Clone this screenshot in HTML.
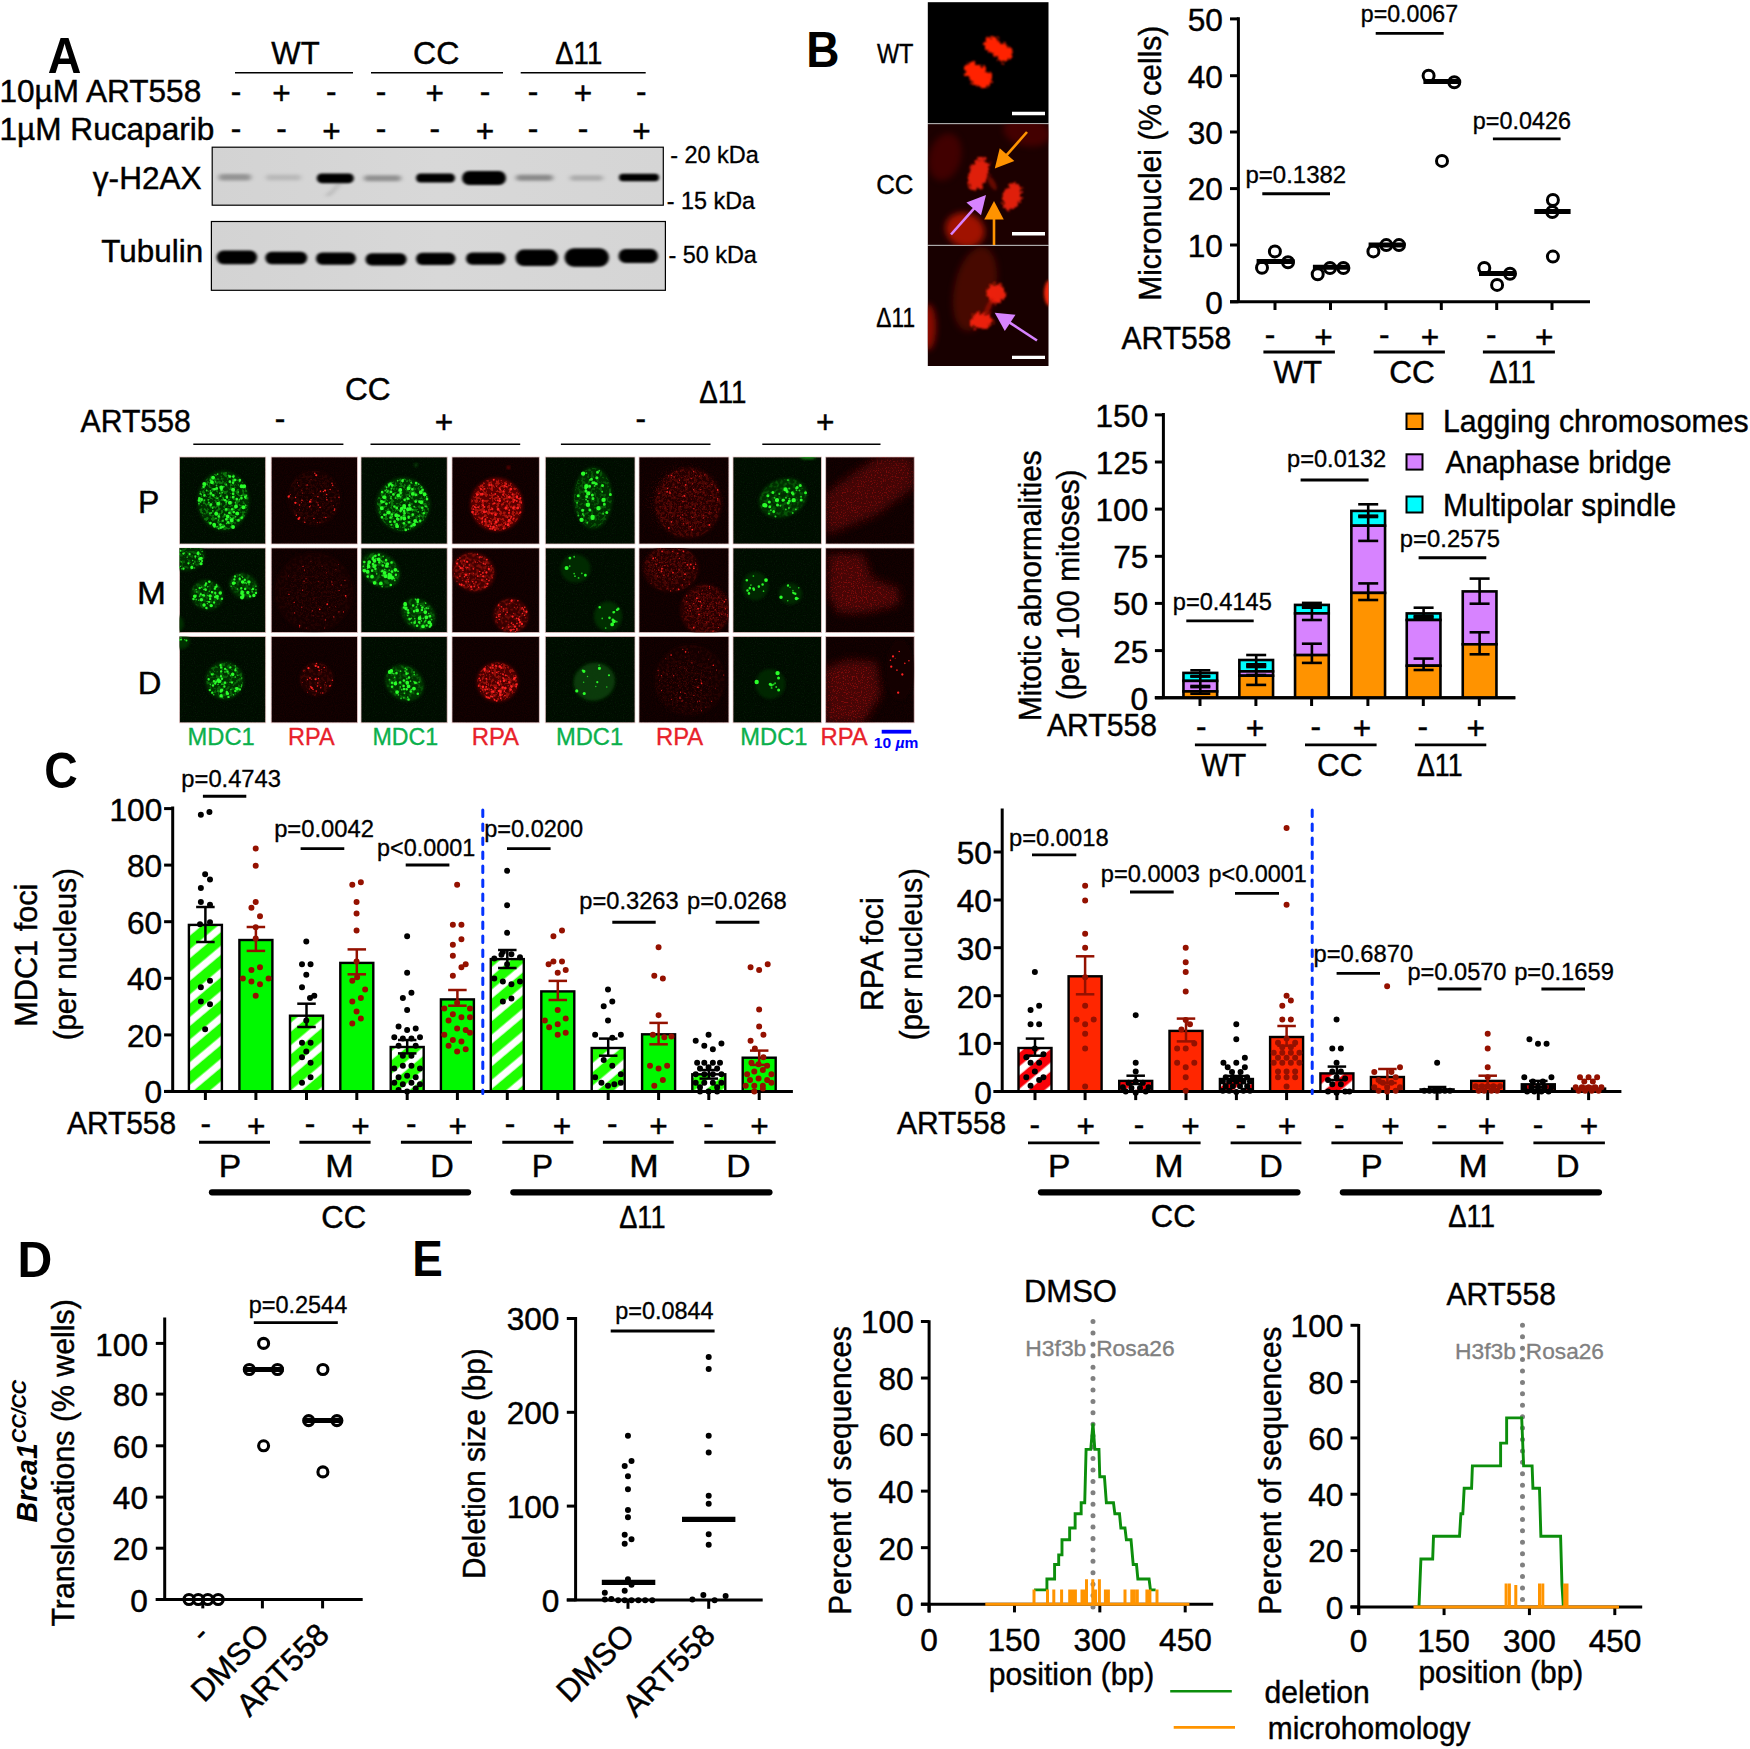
<!DOCTYPE html>
<html lang="en"><head><meta charset="utf-8"><title>Figure</title>
<style>
html,body{margin:0;padding:0;background:#fff;}
svg{display:block;}
text{font-family:"Liberation Sans",sans-serif;}
</style></head><body>
<svg width="1750" height="1749" viewBox="0 0 1750 1749">
<defs>
<linearGradient id="blotbg" x1="0" y1="0" x2="1" y2="0"><stop offset="0" stop-color="#d3d3d3"/><stop offset="0.5" stop-color="#d8d8d8"/><stop offset="1" stop-color="#d5d5d5"/></linearGradient>
<filter id="bblur" x="-5%" y="-50%" width="110%" height="200%"><feGaussianBlur stdDeviation="1.7 1.3"/></filter>
<filter id="bblur2" x="-10%" y="-100%" width="120%" height="300%"><feGaussianBlur stdDeviation="2.6 1.6"/></filter>
<filter id="rag" x="-40%" y="-40%" width="180%" height="180%"><feTurbulence type="fractalNoise" baseFrequency="0.3" numOctaves="2" seed="11" result="t"/><feDisplacementMap in="SourceGraphic" in2="t" scale="9" xChannelSelector="R" yChannelSelector="G" result="d"/><feGaussianBlur in="d" stdDeviation="1.0"/></filter>
<filter id="mblur" x="-40%" y="-40%" width="180%" height="180%"><feGaussianBlur stdDeviation="1.8"/></filter>
<filter id="mblur2" x="-40%" y="-40%" width="180%" height="180%"><feGaussianBlur stdDeviation="3"/></filter>
<filter id="nblur" x="-30%" y="-30%" width="160%" height="160%"><feGaussianBlur stdDeviation="1.6"/></filter>
<filter id="nblur2" x="-30%" y="-30%" width="160%" height="160%"><feGaussianBlur stdDeviation="5"/></filter>
<filter id="fblur" x="-10%" y="-10%" width="120%" height="120%"><feGaussianBlur stdDeviation="0.45"/></filter>
<filter id="mesh0" x="-5%" y="-5%" width="110%" height="110%"><feTurbulence type="fractalNoise" baseFrequency="0.33" numOctaves="2" seed="5" result="n"/><feColorMatrix in="n" type="matrix" values="0 0 0 0 0  0 0 0 0 0  0 0 0 0 0  0 8 0 0 -3.9" result="a"/><feComposite in="SourceGraphic" in2="a" operator="in" result="c"/><feGaussianBlur in="c" stdDeviation="0.45"/></filter>
<filter id="mesh1" x="-5%" y="-5%" width="110%" height="110%"><feTurbulence type="fractalNoise" baseFrequency="0.33" numOctaves="2" seed="17" result="n"/><feColorMatrix in="n" type="matrix" values="0 0 0 0 0  0 0 0 0 0  0 0 0 0 0  0 8 0 0 -3.9" result="a"/><feComposite in="SourceGraphic" in2="a" operator="in" result="c"/><feGaussianBlur in="c" stdDeviation="0.45"/></filter>
<filter id="mesh2" x="-5%" y="-5%" width="110%" height="110%"><feTurbulence type="fractalNoise" baseFrequency="0.33" numOctaves="2" seed="29" result="n"/><feColorMatrix in="n" type="matrix" values="0 0 0 0 0  0 0 0 0 0  0 0 0 0 0  0 8 0 0 -3.9" result="a"/><feComposite in="SourceGraphic" in2="a" operator="in" result="c"/><feGaussianBlur in="c" stdDeviation="0.45"/></filter>
<filter id="speck" x="-25%" y="-25%" width="150%" height="150%"><feGaussianBlur in="SourceGraphic" stdDeviation="6" result="b"/><feTurbulence type="fractalNoise" baseFrequency="0.8" numOctaves="2" seed="9" result="n"/><feColorMatrix in="n" type="matrix" values="0 0 0 0 0  0 0 0 0 0  0 0 0 0 0  0 7 0 0 -3.85" result="a"/><feComposite in="b" in2="a" operator="in"/></filter>
<filter id="grain" x="0" y="0" width="100%" height="100%"><feTurbulence type="fractalNoise" baseFrequency="0.9" numOctaves="2" seed="3" result="n"/><feColorMatrix in="n" type="matrix" values="0 0 0 0 0  0 0 0 0 0  0 0 0 0 0  1.6 0 0 0 -0.55" result="a"/><feComposite in="SourceGraphic" in2="a" operator="in"/></filter>
<pattern id="hg" width="17.3" height="10" patternUnits="userSpaceOnUse" patternTransform="rotate(50)"><rect width="17.3" height="10" fill="#1eff00"/><rect x="1.5" width="6.9" height="10" fill="#fff"/></pattern>
<pattern id="hr" width="17.3" height="10" patternUnits="userSpaceOnUse" patternTransform="rotate(50)"><rect width="17.3" height="10" fill="#f80008"/><rect x="1.5" width="6.9" height="10" fill="#fff"/></pattern>
</defs>
<rect width="1750" height="1749" fill="#fff"/>
<g id="pA">
<text x="47.64" y="72.7" textLength="33.63" lengthAdjust="spacingAndGlyphs" font-size="49.5" font-weight="bold">A</text>
<text x="271.34" y="64.2" textLength="48.27" lengthAdjust="spacingAndGlyphs" font-size="31.6" stroke="#000" stroke-width="0.44">WT</text>
<text x="413" y="64.2" textLength="46.26" lengthAdjust="spacingAndGlyphs" font-size="31.6" stroke="#000" stroke-width="0.44">CC</text>
<text x="555.17" y="64.2" textLength="47.1" lengthAdjust="spacingAndGlyphs" font-size="31.6" stroke="#000" stroke-width="0.44">Δ11</text>
<line x1="235" y1="72.7" x2="353" y2="72.7" stroke="#000" stroke-width="1.6" />
<line x1="371" y1="72.7" x2="503" y2="72.7" stroke="#000" stroke-width="1.6" />
<line x1="520.7" y1="72.7" x2="645.7" y2="72.7" stroke="#000" stroke-width="1.6" />
<text x="-0.46" y="102.3" textLength="201.62" lengthAdjust="spacingAndGlyphs" font-size="31.6" stroke="#000" stroke-width="0.44">10µM ART558</text>
<text x="-0.47" y="139.6" textLength="214.78" lengthAdjust="spacingAndGlyphs" font-size="31.6" stroke="#000" stroke-width="0.44">1µM Rucaparib</text>
<text x="230.71" y="101.77" font-size="31.6" stroke="#000" stroke-width="0.44">-</text>
<text x="230.71" y="138.87" font-size="31.6" stroke="#000" stroke-width="0.44">-</text>
<text x="272.36" y="104.19" font-size="31.6" stroke="#000" stroke-width="0.44">+</text>
<text x="276.31" y="138.87" font-size="31.6" stroke="#000" stroke-width="0.44">-</text>
<text x="326.11" y="101.77" font-size="31.6" stroke="#000" stroke-width="0.44">-</text>
<text x="322.16" y="141.99" font-size="31.6" stroke="#000" stroke-width="0.44">+</text>
<text x="375.71" y="101.77" font-size="31.6" stroke="#000" stroke-width="0.44">-</text>
<text x="375.71" y="138.87" font-size="31.6" stroke="#000" stroke-width="0.44">-</text>
<text x="425.46" y="104.19" font-size="31.6" stroke="#000" stroke-width="0.44">+</text>
<text x="429.41" y="138.87" font-size="31.6" stroke="#000" stroke-width="0.44">-</text>
<text x="479.71" y="101.77" font-size="31.6" stroke="#000" stroke-width="0.44">-</text>
<text x="475.76" y="141.99" font-size="31.6" stroke="#000" stroke-width="0.44">+</text>
<text x="527.71" y="101.77" font-size="31.6" stroke="#000" stroke-width="0.44">-</text>
<text x="527.71" y="138.87" font-size="31.6" stroke="#000" stroke-width="0.44">-</text>
<text x="573.76" y="104.19" font-size="31.6" stroke="#000" stroke-width="0.44">+</text>
<text x="577.71" y="138.87" font-size="31.6" stroke="#000" stroke-width="0.44">-</text>
<text x="636.11" y="101.77" font-size="31.6" stroke="#000" stroke-width="0.44">-</text>
<text x="632.16" y="141.99" font-size="31.6" stroke="#000" stroke-width="0.44">+</text>
<rect x="212.2" y="147.2" width="451.1" height="58" fill="url(#blotbg)" stroke="#000" stroke-width="1.2"/>
<rect x="211.4" y="221.5" width="454" height="68.8" fill="url(#blotbg)" stroke="#000" stroke-width="1.2"/>
<g filter="url(#bblur2)">
<rect x="218.7" y="173.95" width="32.3" height="6.5" rx="3.25" fill="#000" opacity="0.3"/>
<rect x="266" y="174.5" width="35" height="6" rx="3" fill="#000" opacity="0.13"/>
<rect x="364" y="175.2" width="37" height="6" rx="3" fill="#000" opacity="0.33"/>
<rect x="516" y="174.8" width="37" height="6" rx="3" fill="#000" opacity="0.36"/>
<rect x="570" y="175.25" width="33" height="5.5" rx="2.75" fill="#000" opacity="0.2"/>
<path d="M340 183 L332 192 L327 196" stroke="#000" stroke-width="2.5" fill="none" opacity="0.18"/>
</g>
<g filter="url(#bblur)">
<rect x="316.8" y="173.4" width="37" height="9.8" rx="4.9" fill="#000"/>
<rect x="416" y="173.5" width="39" height="9" rx="4.5" fill="#000"/>
<rect x="462" y="171" width="44" height="14" rx="7" fill="#000"/>
<rect x="619" y="173.85" width="40" height="7.5" rx="3.75" fill="#000"/>
<rect x="216.7" y="250.45" width="40.4" height="13.7" rx="6.85" fill="#000"/>
<rect x="265.3" y="251.75" width="41.9" height="12.5" rx="6.25" fill="#000"/>
<rect x="316" y="252.45" width="39.9" height="12.3" rx="6.15" fill="#000"/>
<rect x="365.5" y="253.15" width="41.1" height="12.3" rx="6.15" fill="#000"/>
<rect x="416" y="252.65" width="39.5" height="12.3" rx="6.15" fill="#000"/>
<rect x="466" y="252.45" width="39.6" height="12.3" rx="6.15" fill="#000"/>
<rect x="515.5" y="249.55" width="42.5" height="16.5" rx="8.25" fill="#000"/>
<rect x="564.5" y="248.25" width="44.5" height="18.5" rx="9.25" fill="#000"/>
<rect x="618.5" y="248.9" width="39.5" height="14.2" rx="7.1" fill="#000"/>
</g>
<text x="92.84" y="188.8" textLength="108.8" lengthAdjust="spacingAndGlyphs" font-size="31.6" stroke="#000" stroke-width="0.44">γ-H2AX</text>
<text x="101.37" y="262.3" textLength="101.76" lengthAdjust="spacingAndGlyphs" font-size="31.6" stroke="#000" stroke-width="0.44">Tubulin</text>
<text x="670.14" y="163" textLength="88.64" lengthAdjust="spacingAndGlyphs" font-size="23.7" stroke="#000" stroke-width="0.33">- 20 kDa</text>
<text x="666.85" y="208.6" textLength="88.13" lengthAdjust="spacingAndGlyphs" font-size="23.7" stroke="#000" stroke-width="0.33">- 15 kDa</text>
<text x="668.45" y="262.6" textLength="88.44" lengthAdjust="spacingAndGlyphs" font-size="23.7" stroke="#000" stroke-width="0.33">- 50 kDa</text>
</g>
<g id="pBimg">
<text x="806.21" y="67.3" textLength="33.23" lengthAdjust="spacingAndGlyphs" font-size="49.3" font-weight="bold">B</text>
<text x="876.88" y="63" textLength="36.58" lengthAdjust="spacingAndGlyphs" font-size="27.5" stroke="#000" stroke-width="0.39">WT</text>
<text x="876.21" y="194.4" textLength="37.31" lengthAdjust="spacingAndGlyphs" font-size="27.5" stroke="#000" stroke-width="0.39">CC</text>
<text x="876.32" y="327" textLength="38.73" lengthAdjust="spacingAndGlyphs" font-size="27.5" stroke="#000" stroke-width="0.39">Δ11</text>
<clipPath id="cb1"><rect x="927.8" y="2.2" width="120.70000000000005" height="121.2"/></clipPath>
<clipPath id="cb2"><rect x="927.8" y="124" width="120.70000000000005" height="121"/></clipPath>
<clipPath id="cb3"><rect x="927.8" y="245.6" width="120.70000000000005" height="120.4"/></clipPath>
<rect x="927.8" y="2.2" width="120.7" height="121.2" fill="#000"/>
<rect x="927.8" y="124" width="120.7" height="121" fill="#1c0000"/>
<rect x="927.8" y="245.6" width="120.7" height="120.4" fill="#180000"/>
<line x1="927.8" y1="123.7" x2="1048.5" y2="123.7" stroke="#b0b0b0" stroke-width="0.9" />
<line x1="927.8" y1="245.3" x2="1048.5" y2="245.3" stroke="#b0b0b0" stroke-width="0.9" />
<g clip-path="url(#cb1)">
<g filter="url(#rag)">
<ellipse cx="992" cy="44.5" rx="8.5" ry="8" transform="rotate(0 992 44.5)" fill="#ff2300" opacity="1"/>
<ellipse cx="1004" cy="53" rx="8.5" ry="9" transform="rotate(0 1004 53)" fill="#ff2300" opacity="1"/>
<ellipse cx="998" cy="49" rx="12" ry="7" transform="rotate(35 998 49)" fill="#ff2300" opacity="1"/>
<ellipse cx="978" cy="75" rx="16" ry="9.5" transform="rotate(38 978 75)" fill="#ff2300" opacity="1"/>
<ellipse cx="971" cy="68" rx="6" ry="5" transform="rotate(0 971 68)" fill="#ff2300" opacity="1"/>
</g>
</g>
<g clip-path="url(#cb2)">
<ellipse cx="945" cy="157" rx="16" ry="24" transform="rotate(15 945 157)" fill="#5a0500" opacity="0.6" filter="url(#mblur2)"/>
<ellipse cx="1027" cy="132" rx="24" ry="14" transform="rotate(10 1027 132)" fill="#5a0500" opacity="0.65" filter="url(#mblur2)"/>
<ellipse cx="965" cy="230" rx="20" ry="17" transform="rotate(20 965 230)" fill="#b81205" opacity="0.85" filter="url(#mblur2)"/>
<g filter="url(#rag)" opacity="0.92">
<ellipse cx="978.5" cy="174" rx="9.5" ry="17" transform="rotate(20 978.5 174)" fill="#f02408" opacity="1"/>
<ellipse cx="1012" cy="196.5" rx="9.5" ry="13.5" transform="rotate(20 1012 196.5)" fill="#f02408" opacity="1"/>
</g>
<ellipse cx="992" cy="183" rx="3" ry="8" transform="rotate(-30 992 183)" fill="#8a0c00" opacity="0.7" filter="url(#mblur)"/>
</g>
<line x1="1027" y1="132" x2="1006.38" y2="155.38" stroke="#ff9300" stroke-width="2.6" />
<polygon points="994.8,168.5 999.73,148.18 1014.35,161.08" fill="#ff9300"/>
<line x1="994" y1="245" x2="994" y2="218.5" stroke="#ff9300" stroke-width="2.6" />
<polygon points="994,201 1003.75,219.5 984.25,219.5" fill="#ff9300"/>
<line x1="951" y1="234.5" x2="974.39" y2="208.1" stroke="#d783ff" stroke-width="2.6" />
<polygon points="986,195 981.03,215.31 966.43,202.38" fill="#d783ff"/>
<g clip-path="url(#cb3)">
<ellipse cx="975" cy="289" rx="21" ry="43" transform="rotate(12 975 289)" fill="#5c0700" opacity="0.7" filter="url(#mblur2)"/>
<ellipse cx="928" cy="327" rx="8" ry="23" transform="rotate(0 928 327)" fill="#a81005" opacity="0.8" filter="url(#mblur2)"/>
<ellipse cx="1050" cy="293" rx="6" ry="13" transform="rotate(0 1050 293)" fill="#ff2a0a" opacity="0.95" filter="url(#mblur)"/>
<g filter="url(#rag)" opacity="0.95">
<ellipse cx="996" cy="293.5" rx="9.5" ry="10" transform="rotate(0 996 293.5)" fill="#f52408" opacity="1"/>
<ellipse cx="981.5" cy="320.5" rx="11.5" ry="8" transform="rotate(-10 981.5 320.5)" fill="#f52408" opacity="1"/>
</g>
<ellipse cx="988.5" cy="307" rx="2.5" ry="9" transform="rotate(25 988.5 307)" fill="#a01000" opacity="0.8" filter="url(#mblur)"/>
</g>
<line x1="1037" y1="340.5" x2="1009.32" y2="322.31" stroke="#d783ff" stroke-width="2.6" />
<polygon points="994.7,312.7 1015.51,314.71 1004.81,331.01" fill="#d783ff"/>
<line x1="1012" y1="113.5" x2="1045" y2="113.5" stroke="#fff" stroke-width="3.4" />
<line x1="1012" y1="233.7" x2="1045" y2="233.7" stroke="#fff" stroke-width="3.4" />
<line x1="1012" y1="357.4" x2="1045" y2="357.4" stroke="#fff" stroke-width="3.4" />
</g>
<g id="pBmic">
<line x1="1238.4" y1="17.3" x2="1238.4" y2="303.1" stroke="#000" stroke-width="3" />
<line x1="1230" y1="301.8" x2="1590" y2="301.8" stroke="#000" stroke-width="3" />
<line x1="1230" y1="18.9" x2="1238.4" y2="18.9" stroke="#000" stroke-width="3" />
<text x="1187.63" y="30.7" font-size="31.6" stroke="#000" stroke-width="0.44">50</text>
<line x1="1230" y1="75.7" x2="1238.4" y2="75.7" stroke="#000" stroke-width="3" />
<text x="1187.63" y="87.5" font-size="31.6" stroke="#000" stroke-width="0.44">40</text>
<line x1="1230" y1="132" x2="1238.4" y2="132" stroke="#000" stroke-width="3" />
<text x="1187.63" y="143.8" font-size="31.6" stroke="#000" stroke-width="0.44">30</text>
<line x1="1230" y1="188.6" x2="1238.4" y2="188.6" stroke="#000" stroke-width="3" />
<text x="1187.63" y="200.4" font-size="31.6" stroke="#000" stroke-width="0.44">20</text>
<line x1="1230" y1="245" x2="1238.4" y2="245" stroke="#000" stroke-width="3" />
<text x="1187.63" y="256.8" font-size="31.6" stroke="#000" stroke-width="0.44">10</text>
<line x1="1230" y1="301.8" x2="1238.4" y2="301.8" stroke="#000" stroke-width="3" />
<text x="1205.17" y="313.6" font-size="31.6" stroke="#000" stroke-width="0.44">0</text>
<line x1="1275" y1="301.8" x2="1275" y2="310" stroke="#000" stroke-width="3" />
<line x1="1330.5" y1="301.8" x2="1330.5" y2="310" stroke="#000" stroke-width="3" />
<line x1="1386" y1="301.8" x2="1386" y2="310" stroke="#000" stroke-width="3" />
<line x1="1441.3" y1="301.8" x2="1441.3" y2="310" stroke="#000" stroke-width="3" />
<line x1="1496.7" y1="301.8" x2="1496.7" y2="310" stroke="#000" stroke-width="3" />
<line x1="1552" y1="301.8" x2="1552" y2="310" stroke="#000" stroke-width="3" />
<text transform="translate(1160.8,298.4) rotate(-90)" x="-2.4" y="0" textLength="275.11" lengthAdjust="spacingAndGlyphs" font-size="31.6" stroke="#000" stroke-width="0.44">Micronuclei (% cells)</text>
<text x="1245.44" y="182.9" textLength="100.73" lengthAdjust="spacingAndGlyphs" font-size="23.7" stroke="#000" stroke-width="0.33">p=0.1382</text>
<line x1="1262.3" y1="193.7" x2="1330" y2="193.7" stroke="#000" stroke-width="2.9" />
<text x="1360.79" y="22.3" textLength="97.34" lengthAdjust="spacingAndGlyphs" font-size="23.7" stroke="#000" stroke-width="0.33">p=0.0067</text>
<line x1="1375.7" y1="33.4" x2="1443.7" y2="33.4" stroke="#000" stroke-width="2.9" />
<text x="1472.78" y="128.6" textLength="98.13" lengthAdjust="spacingAndGlyphs" font-size="23.7" stroke="#000" stroke-width="0.33">p=0.0426</text>
<line x1="1492.9" y1="138.9" x2="1560.6" y2="138.9" stroke="#000" stroke-width="2.9" />
<circle cx="1262" cy="267.7" r="5.5" fill="none" stroke="#000" stroke-width="3"/>
<circle cx="1274.9" cy="251.4" r="5.5" fill="none" stroke="#000" stroke-width="3"/>
<circle cx="1288" cy="262.3" r="5.5" fill="none" stroke="#000" stroke-width="3"/>
<circle cx="1317.7" cy="274.3" r="5.5" fill="none" stroke="#000" stroke-width="3"/>
<circle cx="1330" cy="268" r="5.5" fill="none" stroke="#000" stroke-width="3"/>
<circle cx="1343.4" cy="268" r="5.5" fill="none" stroke="#000" stroke-width="3"/>
<circle cx="1373.4" cy="251.4" r="5.5" fill="none" stroke="#000" stroke-width="3"/>
<circle cx="1386.3" cy="245.1" r="5.5" fill="none" stroke="#000" stroke-width="3"/>
<circle cx="1399" cy="245.1" r="5.5" fill="none" stroke="#000" stroke-width="3"/>
<circle cx="1428.6" cy="75.7" r="5.5" fill="none" stroke="#000" stroke-width="3"/>
<circle cx="1454.3" cy="82.3" r="5.5" fill="none" stroke="#000" stroke-width="3"/>
<circle cx="1442" cy="160.9" r="5.5" fill="none" stroke="#000" stroke-width="3"/>
<circle cx="1484.3" cy="268" r="5.5" fill="none" stroke="#000" stroke-width="3"/>
<circle cx="1497.1" cy="284.9" r="5.5" fill="none" stroke="#000" stroke-width="3"/>
<circle cx="1510" cy="273.7" r="5.5" fill="none" stroke="#000" stroke-width="3"/>
<circle cx="1552.9" cy="200" r="5.5" fill="none" stroke="#000" stroke-width="3"/>
<circle cx="1552.3" cy="212" r="5.5" fill="none" stroke="#000" stroke-width="3"/>
<circle cx="1552.9" cy="256.6" r="5.5" fill="none" stroke="#000" stroke-width="3"/>
<line x1="1256.6" y1="261.6" x2="1294.3" y2="261.6" stroke="#000" stroke-width="5" />
<line x1="1312.9" y1="267.2" x2="1348.6" y2="267.2" stroke="#000" stroke-width="5" />
<line x1="1368.6" y1="244.9" x2="1405" y2="244.9" stroke="#000" stroke-width="5" />
<line x1="1423.4" y1="81.6" x2="1460" y2="81.6" stroke="#000" stroke-width="5" />
<line x1="1479" y1="273.4" x2="1515.7" y2="273.4" stroke="#000" stroke-width="5" />
<line x1="1534.3" y1="211.6" x2="1570.6" y2="211.6" stroke="#000" stroke-width="5" />
<text x="1121.4" y="348.6" textLength="109.82" lengthAdjust="spacingAndGlyphs" font-size="31.6" stroke="#000" stroke-width="0.44">ART558</text>
<text x="1264.71" y="345.37" font-size="31.6" stroke="#000" stroke-width="0.44">-</text>
<text x="1314.16" y="347.79" font-size="31.6" stroke="#000" stroke-width="0.44">+</text>
<text x="1379.01" y="345.37" font-size="31.6" stroke="#000" stroke-width="0.44">-</text>
<text x="1420.76" y="347.79" font-size="31.6" stroke="#000" stroke-width="0.44">+</text>
<text x="1486.11" y="345.37" font-size="31.6" stroke="#000" stroke-width="0.44">-</text>
<text x="1535.06" y="347.79" font-size="31.6" stroke="#000" stroke-width="0.44">+</text>
<line x1="1263.4" y1="352" x2="1334.9" y2="352" stroke="#000" stroke-width="2.9" />
<line x1="1373.7" y1="352" x2="1444.9" y2="352" stroke="#000" stroke-width="2.9" />
<line x1="1482.9" y1="352" x2="1554.9" y2="352" stroke="#000" stroke-width="2.9" />
<text x="1273.54" y="382.9" textLength="48.47" lengthAdjust="spacingAndGlyphs" font-size="31.6" stroke="#000" stroke-width="0.44">WT</text>
<text x="1389.32" y="382.9" textLength="45.62" lengthAdjust="spacingAndGlyphs" font-size="31.6" stroke="#000" stroke-width="0.44">CC</text>
<text x="1489.18" y="382.9" textLength="46.37" lengthAdjust="spacingAndGlyphs" font-size="31.6" stroke="#000" stroke-width="0.44">Δ11</text>
</g>
<g id="pGrid">
<text x="345.02" y="399.7" textLength="45.62" lengthAdjust="spacingAndGlyphs" font-size="31.6" stroke="#000" stroke-width="0.44">CC</text>
<text x="699.17" y="403.2" textLength="47.31" lengthAdjust="spacingAndGlyphs" font-size="31.6" stroke="#000" stroke-width="0.44">Δ11</text>
<text x="80.6" y="431.6" textLength="110.12" lengthAdjust="spacingAndGlyphs" font-size="31.6" stroke="#000" stroke-width="0.44">ART558</text>
<text x="274.71" y="428.57" font-size="31.6" stroke="#000" stroke-width="0.44">-</text>
<text x="434.76" y="432.59" font-size="31.6" stroke="#000" stroke-width="0.44">+</text>
<text x="635.61" y="428.57" font-size="31.6" stroke="#000" stroke-width="0.44">-</text>
<text x="815.96" y="432.59" font-size="31.6" stroke="#000" stroke-width="0.44">+</text>
<line x1="193.3" y1="444.2" x2="343.4" y2="444.2" stroke="#000" stroke-width="1.6" />
<line x1="370.5" y1="444.2" x2="520.2" y2="444.2" stroke="#000" stroke-width="1.6" />
<line x1="560.9" y1="444.2" x2="710.5" y2="444.2" stroke="#000" stroke-width="1.6" />
<line x1="762.3" y1="444.2" x2="880.5" y2="444.2" stroke="#000" stroke-width="1.6" />
<text x="137.94" y="512.8" textLength="21.32" lengthAdjust="spacingAndGlyphs" font-size="31.6" stroke="#000" stroke-width="0.44">P</text>
<text x="136.92" y="603.8" textLength="28.97" lengthAdjust="spacingAndGlyphs" font-size="31.6" stroke="#000" stroke-width="0.44">M</text>
<text x="137.88" y="694.4" textLength="23.67" lengthAdjust="spacingAndGlyphs" font-size="31.6" stroke="#000" stroke-width="0.44">D</text>
<clipPath id="k00"><rect x="179.4" y="457" width="86.3" height="87"/></clipPath>
<rect x="179.4" y="457" width="86.3" height="87" fill="#010a01" stroke="#e9c9c9" stroke-width="0.8"/>
<rect x="179.9" y="457.5" width="85.3" height="86" fill="#0c330c" opacity="0.38" filter="url(#grain)"/>
<clipPath id="k01"><rect x="271.2" y="457" width="86.3" height="87"/></clipPath>
<rect x="271.2" y="457" width="86.3" height="87" fill="#0c0000" stroke="#e9c9c9" stroke-width="0.8"/>
<rect x="271.7" y="457.5" width="85.3" height="86" fill="#3c0606" opacity="0.38" filter="url(#grain)"/>
<clipPath id="k02"><rect x="361" y="457" width="86.2" height="87"/></clipPath>
<rect x="361" y="457" width="86.2" height="87" fill="#010a01" stroke="#e9c9c9" stroke-width="0.8"/>
<rect x="361.5" y="457.5" width="85.2" height="86" fill="#0c330c" opacity="0.38" filter="url(#grain)"/>
<clipPath id="k03"><rect x="452" y="457" width="87.3" height="87"/></clipPath>
<rect x="452" y="457" width="87.3" height="87" fill="#0c0000" stroke="#e9c9c9" stroke-width="0.8"/>
<rect x="452.5" y="457.5" width="86.3" height="86" fill="#3c0606" opacity="0.38" filter="url(#grain)"/>
<clipPath id="k04"><rect x="545.3" y="457" width="89.7" height="87"/></clipPath>
<rect x="545.3" y="457" width="89.7" height="87" fill="#010a01" stroke="#e9c9c9" stroke-width="0.8"/>
<rect x="545.8" y="457.5" width="88.7" height="86" fill="#0c330c" opacity="0.38" filter="url(#grain)"/>
<clipPath id="k05"><rect x="639" y="457" width="89.9" height="87"/></clipPath>
<rect x="639" y="457" width="89.9" height="87" fill="#0c0000" stroke="#e9c9c9" stroke-width="0.8"/>
<rect x="639.5" y="457.5" width="88.9" height="86" fill="#3c0606" opacity="0.38" filter="url(#grain)"/>
<clipPath id="k06"><rect x="733" y="457" width="88.4" height="87"/></clipPath>
<rect x="733" y="457" width="88.4" height="87" fill="#010a01" stroke="#e9c9c9" stroke-width="0.8"/>
<rect x="733.5" y="457.5" width="87.4" height="86" fill="#0c330c" opacity="0.38" filter="url(#grain)"/>
<clipPath id="k07"><rect x="825.7" y="457" width="88.5" height="87"/></clipPath>
<rect x="825.7" y="457" width="88.5" height="87" fill="#0c0000" stroke="#e9c9c9" stroke-width="0.8"/>
<rect x="826.2" y="457.5" width="87.5" height="86" fill="#3c0606" opacity="0.38" filter="url(#grain)"/>
<clipPath id="k10"><rect x="179.4" y="548" width="86.3" height="84.6"/></clipPath>
<rect x="179.4" y="548" width="86.3" height="84.6" fill="#010a01" stroke="#e9c9c9" stroke-width="0.8"/>
<rect x="179.9" y="548.5" width="85.3" height="83.6" fill="#0c330c" opacity="0.38" filter="url(#grain)"/>
<clipPath id="k11"><rect x="271.2" y="548" width="86.3" height="84.6"/></clipPath>
<rect x="271.2" y="548" width="86.3" height="84.6" fill="#0c0000" stroke="#e9c9c9" stroke-width="0.8"/>
<rect x="271.7" y="548.5" width="85.3" height="83.6" fill="#3c0606" opacity="0.38" filter="url(#grain)"/>
<clipPath id="k12"><rect x="361" y="548" width="86.2" height="84.6"/></clipPath>
<rect x="361" y="548" width="86.2" height="84.6" fill="#010a01" stroke="#e9c9c9" stroke-width="0.8"/>
<rect x="361.5" y="548.5" width="85.2" height="83.6" fill="#0c330c" opacity="0.38" filter="url(#grain)"/>
<clipPath id="k13"><rect x="452" y="548" width="87.3" height="84.6"/></clipPath>
<rect x="452" y="548" width="87.3" height="84.6" fill="#0c0000" stroke="#e9c9c9" stroke-width="0.8"/>
<rect x="452.5" y="548.5" width="86.3" height="83.6" fill="#3c0606" opacity="0.38" filter="url(#grain)"/>
<clipPath id="k14"><rect x="545.3" y="548" width="89.7" height="84.6"/></clipPath>
<rect x="545.3" y="548" width="89.7" height="84.6" fill="#010a01" stroke="#e9c9c9" stroke-width="0.8"/>
<rect x="545.8" y="548.5" width="88.7" height="83.6" fill="#0c330c" opacity="0.38" filter="url(#grain)"/>
<clipPath id="k15"><rect x="639" y="548" width="89.9" height="84.6"/></clipPath>
<rect x="639" y="548" width="89.9" height="84.6" fill="#0c0000" stroke="#e9c9c9" stroke-width="0.8"/>
<rect x="639.5" y="548.5" width="88.9" height="83.6" fill="#3c0606" opacity="0.38" filter="url(#grain)"/>
<clipPath id="k16"><rect x="733" y="548" width="88.4" height="84.6"/></clipPath>
<rect x="733" y="548" width="88.4" height="84.6" fill="#010a01" stroke="#e9c9c9" stroke-width="0.8"/>
<rect x="733.5" y="548.5" width="87.4" height="83.6" fill="#0c330c" opacity="0.38" filter="url(#grain)"/>
<clipPath id="k17"><rect x="825.7" y="548" width="88.5" height="84.6"/></clipPath>
<rect x="825.7" y="548" width="88.5" height="84.6" fill="#0c0000" stroke="#e9c9c9" stroke-width="0.8"/>
<rect x="826.2" y="548.5" width="87.5" height="83.6" fill="#3c0606" opacity="0.38" filter="url(#grain)"/>
<clipPath id="k20"><rect x="179.4" y="636.5" width="86.3" height="86.3"/></clipPath>
<rect x="179.4" y="636.5" width="86.3" height="86.3" fill="#010a01" stroke="#e9c9c9" stroke-width="0.8"/>
<rect x="179.9" y="637" width="85.3" height="85.3" fill="#0c330c" opacity="0.38" filter="url(#grain)"/>
<clipPath id="k21"><rect x="271.2" y="636.5" width="86.3" height="86.3"/></clipPath>
<rect x="271.2" y="636.5" width="86.3" height="86.3" fill="#0c0000" stroke="#e9c9c9" stroke-width="0.8"/>
<rect x="271.7" y="637" width="85.3" height="85.3" fill="#3c0606" opacity="0.38" filter="url(#grain)"/>
<clipPath id="k22"><rect x="361" y="636.5" width="86.2" height="86.3"/></clipPath>
<rect x="361" y="636.5" width="86.2" height="86.3" fill="#010a01" stroke="#e9c9c9" stroke-width="0.8"/>
<rect x="361.5" y="637" width="85.2" height="85.3" fill="#0c330c" opacity="0.38" filter="url(#grain)"/>
<clipPath id="k23"><rect x="452" y="636.5" width="87.3" height="86.3"/></clipPath>
<rect x="452" y="636.5" width="87.3" height="86.3" fill="#0c0000" stroke="#e9c9c9" stroke-width="0.8"/>
<rect x="452.5" y="637" width="86.3" height="85.3" fill="#3c0606" opacity="0.38" filter="url(#grain)"/>
<clipPath id="k24"><rect x="545.3" y="636.5" width="89.7" height="86.3"/></clipPath>
<rect x="545.3" y="636.5" width="89.7" height="86.3" fill="#010a01" stroke="#e9c9c9" stroke-width="0.8"/>
<rect x="545.8" y="637" width="88.7" height="85.3" fill="#0c330c" opacity="0.38" filter="url(#grain)"/>
<clipPath id="k25"><rect x="639" y="636.5" width="89.9" height="86.3"/></clipPath>
<rect x="639" y="636.5" width="89.9" height="86.3" fill="#0c0000" stroke="#e9c9c9" stroke-width="0.8"/>
<rect x="639.5" y="637" width="88.9" height="85.3" fill="#3c0606" opacity="0.38" filter="url(#grain)"/>
<clipPath id="k26"><rect x="733" y="636.5" width="88.4" height="86.3"/></clipPath>
<rect x="733" y="636.5" width="88.4" height="86.3" fill="#010a01" stroke="#e9c9c9" stroke-width="0.8"/>
<rect x="733.5" y="637" width="87.4" height="85.3" fill="#0c330c" opacity="0.38" filter="url(#grain)"/>
<clipPath id="k27"><rect x="825.7" y="636.5" width="88.5" height="86.3"/></clipPath>
<rect x="825.7" y="636.5" width="88.5" height="86.3" fill="#0c0000" stroke="#e9c9c9" stroke-width="0.8"/>
<rect x="826.2" y="637" width="87.5" height="85.3" fill="#3c0606" opacity="0.38" filter="url(#grain)"/>
<g clip-path="url(#k00)">
<ellipse cx="223.4" cy="500.8" rx="26" ry="30" transform="rotate(0 223.4 500.8)" fill="#063506" opacity="0.9" filter="url(#nblur)"/>
<ellipse cx="223.4" cy="500.8" rx="25.22" ry="29.1" transform="rotate(0 223.4 500.8)" fill="#1fe01f" opacity="0.39" filter="url(#mesh1)"/>
<g filter="url(#fblur)" stroke="#2bff2b" stroke-linecap="round" fill="none">
<path d="M222.85 520.85h0M210.68 480.18h0M245.62 505.42h0M223.49 499.5h0M226.92 497.91h0M200.27 493.69h0M226.74 518.91h0M224.66 514.42h0M210.53 504.65h0M217.63 474.04h0M233.15 480.36h0M204.45 500.07h0M224.41 526.22h0M216.49 485.28h0M209.86 513.2h0M210.48 490.92h0M201.2 494.29h0M208.71 502.41h0M219.41 502.04h0M226.16 502.64h0M223.83 486.57h0M213.14 488.99h0M233.05 518.25h0M215.97 518.44h0M211.28 512.89h0M226.67 501.3h0M215.45 481.87h0M226.73 523.43h0M212.67 508h0M241.53 495.74h0M208.24 499.82h0M228.96 523.3h0M218.42 520.11h0M239.61 481.28h0M226.33 484.55h0M199 503.55h0M222.3 492.6h0M205.09 485.41h0M235.5 516.7h0M228.73 475.6h0M207.03 484.11h0M212.85 495h0M238.29 492.05h0M228.58 475.57h0M219.81 493.23h0M227.11 497.03h0M239.38 499.43h0M242.22 517.18h0M246.54 495.75h0M223.03 520.48h0M220.56 496.17h0M210.26 505.74h0M219.08 514.04h0M218.69 528.54h0M212.83 510.83h0M206.63 490.32h0M235.5 502.6h0M217.16 498.4h0M200.48 501.92h0M201.38 500.57h0M245.69 498.35h0M217.1 526.74h0M227.12 498.09h0M230.49 517.67h0" stroke-width="1.76" opacity="0.75"/>
<path d="M238.5 520.41h0M226.29 519.36h0M233.03 482.68h0M233.73 512.12h0M203.62 486.8h0M231.91 519.49h0M201.64 499.47h0M198.92 500.4h0M199.38 498.4h0M211 504.56h0M225.2 500.23h0M233.36 476.56h0M229.86 481.68h0M213.41 495.38h0M204.46 495.41h0M230.01 476.52h0M222.65 526.93h0M220.41 524.59h0M241.57 517.87h0M228.29 522.25h0M221.48 489.61h0M245.2 496.91h0M210.96 493.39h0M214.54 526.46h0M226.88 496.97h0M239.84 480.03h0M226.15 509.45h0M210.5 523.05h0M233.06 493.82h0M220.95 527.55h0M229.42 512.96h0M236.75 499.11h0M232.17 509.31h0M241.46 498.16h0M216.79 488.46h0M218.75 516.38h0M214.62 489.25h0M233.16 497.08h0M234.91 480.07h0" stroke-width="2.7" opacity="0.95"/>
<path d="M221.3 487.39h0M233.04 526.92h0M243.35 507.25h0M218.17 503.82h0M231.74 520.35h0M235.99 506.42h0M233.1 489.68h0M227.7 516.34h0M213.07 477.6h0M216.24 513.77h0M204.24 483.88h0M229.88 502.68h0M244.21 486.27h0M211.96 482.14h0M214.14 524.76h0M237.27 513.52h0M241.57 486.18h0" stroke-width="3.92" opacity="1.0"/>
</g>
</g>
<g clip-path="url(#k01)">
<ellipse cx="314" cy="498" rx="27" ry="28" transform="rotate(0 314 498)" fill="#180100" opacity="0.9" filter="url(#nblur)"/>
<ellipse cx="314" cy="498" rx="26.19" ry="27.16" transform="rotate(0 314 498)" fill="#ff2818" opacity="0.08" filter="url(#mesh2)"/>
<g filter="url(#fblur)" stroke="#ff2222" stroke-linecap="round" fill="none">
<path d="M338.03 490.94h0M298.69 485.39h0M301.5 502.68h0M331.23 501.11h0M302.43 493.2h0M335.06 497.82h0M311.06 479.7h0M304.3 517.84h0M301.81 490.2h0M333.33 505.76h0M317.51 522.62h0M290.53 494.56h0M319.92 522.2h0M313.06 493.35h0M323.92 517.24h0M316.84 502.12h0M297.44 482.82h0M311.65 501.99h0M310.68 505.77h0M299.6 509.89h0M317.88 502.9h0M326.36 497.56h0" stroke-width="0.98" opacity="0.75"/>
<path d="M334.19 510.36h0M307.12 485.07h0M299.41 505.04h0M338.98 497.16h0M296.34 515.19h0M309.69 506.76h0M331.96 483.28h0M332.65 485.13h0M325.79 517.59h0M295.87 502.65h0M330.17 489.44h0M304.83 522.23h0M295.55 497.49h0M289.28 496.08h0M334.68 508.99h0M323.39 491.62h0M317.92 496.81h0M326.86 499.78h0M320.06 507.51h0M314.85 473.31h0M302 500.15h0M320.47 491.27h0M326.64 494.61h0M310.98 499.73h0M318.21 504.99h0M313.9 518.45h0" stroke-width="1.5" opacity="0.95"/>
<path d="M298.58 518.94h0M299.36 517.85h0M295.25 502.86h0M325.12 490.47h0M309.99 501.64h0M316.21 475.23h0M288.6 496.63h0" stroke-width="2.17" opacity="1.0"/>
</g>
<ellipse cx="314" cy="498" rx="22" ry="23" fill="#f01818" opacity="0.12" filter="url(#speck)"/>
</g>
<g clip-path="url(#k02)">
<ellipse cx="403.2" cy="504.5" rx="27" ry="27" transform="rotate(0 403.2 504.5)" fill="#063806" opacity="0.9" filter="url(#nblur)"/>
<ellipse cx="403.2" cy="504.5" rx="26.19" ry="26.19" transform="rotate(0 403.2 504.5)" fill="#1fe01f" opacity="0.38" filter="url(#mesh0)"/>
<g filter="url(#fblur)" stroke="#2bff2b" stroke-linecap="round" fill="none">
<path d="M404.63 523.37h0M387.08 492.17h0M426.59 506.44h0M397.7 480.51h0M409 498.98h0M408.39 529.16h0M390.94 498.4h0M418.71 484.23h0M408.34 488.89h0M422.54 510.01h0M414.38 506.73h0M395.41 498.02h0M384.37 501.99h0M386.37 514.42h0M387.97 490.94h0M391.08 496.52h0M403.99 515.58h0M400.58 496.75h0M391.44 524.75h0M409.7 496.18h0M388.74 486.58h0M401.2 519.46h0M421.77 487.05h0M426.7 496.89h0M389.51 502.86h0M397.88 526.97h0M425.27 506.33h0M380.75 507.74h0M411.23 482.65h0M386.74 487.28h0M409.21 504.57h0M397.41 517.67h0M391.35 488.83h0M408.52 518.21h0M382.8 497.08h0M412.7 509.72h0M385.22 490.66h0M409.6 485.29h0M418.26 511.77h0M421.26 487.47h0M421.47 490.84h0M418.88 516.37h0M417.2 522.2h0M381.56 502.96h0M403.04 479.7h0M403.74 515.36h0M386.59 489.67h0M392.33 516.45h0" stroke-width="1.76" opacity="0.75"/>
<path d="M405.72 529.97h0M412.35 489.35h0M381.35 501.29h0M423.75 513.25h0M393.35 494.45h0M391.75 514.49h0M382.15 492.18h0M427 499.12h0M400.54 493.02h0M400.59 511.12h0M415.76 494.97h0M382.78 501.91h0M386.37 503.76h0M391 491.93h0M390.24 521.74h0M409.45 505.38h0M415.71 501.56h0M397.22 518.89h0M398.29 519.47h0M422.28 507.76h0M398.74 515.75h0M389.05 484.96h0M404.59 513.31h0M411.57 525.96h0M408.69 516.88h0M412.71 514.58h0M402.54 481.05h0M404.14 511.13h0M422.57 489.78h0M396.76 524.37h0M381.91 517.32h0M409.29 522.24h0M401.42 517.67h0M387.59 512.71h0M407.79 498.54h0M390.63 517.48h0M384.44 514.73h0M403.78 523.27h0M394.43 506.51h0M390.55 483.92h0M392.32 485.41h0M404.89 508.05h0M420.25 520.77h0M416.1 483.05h0M404.67 499.84h0M394.54 521.7h0M396.75 508.14h0M419.45 501.72h0" stroke-width="2.7" opacity="0.95"/>
<path d="M415.15 521.08h0M401.77 508.78h0M381.77 508.21h0M408.58 488.26h0M424.61 494.25h0M398.28 495.38h0M397.08 526.14h0M400.29 490.03h0M421.3 502.29h0M412.89 493.89h0M384.39 497.15h0M404.29 518.53h0M388.83 512.43h0M404.18 505.95h0M420.76 492.34h0M396.2 515.32h0M414.03 524.59h0M407.96 509.23h0M409.98 508.91h0" stroke-width="3.92" opacity="1.0"/>
</g>
<ellipse cx="416" cy="465" rx="1.5" ry="1.5" transform="rotate(0 416 465)" fill="#0d6e0d" opacity="0.9" filter="url(#nblur)"/>
</g>
<g clip-path="url(#k03)">
<ellipse cx="496.6" cy="504.6" rx="26.5" ry="27" transform="rotate(0 496.6 504.6)" fill="#620503" opacity="0.9" filter="url(#nblur)"/>
<ellipse cx="496.6" cy="504.6" rx="25.7" ry="26.19" transform="rotate(0 496.6 504.6)" fill="#ff2818" opacity="0.49" filter="url(#mesh2)"/>
<g filter="url(#fblur)" stroke="#ff2222" stroke-linecap="round" fill="none">
<path d="M482.43 485h0M494.02 503.28h0M508.69 523.91h0M489.97 498.46h0M504.56 496.11h0M519.97 501.96h0M519.88 499.54h0M490 512.6h0M517.32 505.05h0M519.88 513.48h0M496.57 481.02h0M502.03 504.92h0M518.69 493.95h0M483.09 500.59h0M499.7 511.04h0M487.23 480.84h0M504.44 489.24h0M519.23 513.02h0M473.57 505.55h0M498.54 496.46h0M510.29 523.61h0M494.36 486.99h0M488.67 510.18h0M481.95 504.66h0M482.78 520.89h0M478.66 494.42h0M495.83 500.41h0M477.68 512.08h0M488.77 485.85h0M484.82 506.77h0M506.08 515.35h0M498.43 528.91h0M485.59 512.18h0M513.81 520.07h0M515.82 509.11h0M518.6 498.59h0M504.38 485.63h0M482.48 524.11h0M484.84 516.45h0M490.2 529.04h0M510.91 518.62h0M514.91 506.15h0M517.04 495.63h0M512.77 519.72h0M482.33 501.49h0M479.75 501.34h0M495.99 484.89h0M510.77 492.34h0M509.89 496.21h0M503.27 495.48h0M490.95 488.74h0M501.21 480.58h0M499.09 498.39h0M517.68 504.38h0M516.9 498.2h0M490.24 528.31h0M484.16 494.03h0M492.82 500.88h0M491.7 509.34h0M507.59 517.19h0M495.05 523.59h0M496.67 486.16h0M514.29 515.3h0M510.34 518.56h0M509.09 492.18h0M491.61 493.6h0M509.31 520.2h0M487.52 517.57h0M490.39 509.48h0M474.8 507.26h0M481.12 512.19h0" stroke-width="1.23" opacity="0.75"/>
<path d="M481.07 489.19h0M484.33 507.06h0M492.16 528.73h0M514.55 500.09h0M503.45 528.48h0M509.28 510.2h0M488.22 526.18h0M489.58 520.89h0M500.18 489.51h0M507.32 501.44h0M485.44 519.3h0M513.55 518.53h0M508.95 512.72h0M520.45 512.25h0M486.42 511.57h0M493.78 479.77h0M513.36 502.01h0M521.2 502.77h0M482.23 522h0M489.6 484.95h0M474.6 506.62h0M489.94 528.6h0M494.23 503.26h0M496.51 525.62h0M504.84 485.75h0M484.94 521.41h0M503.63 491.22h0M514.05 499.62h0M475.88 507.64h0M495.32 494.05h0M480.81 488.76h0M498.26 509.14h0M482.22 518.31h0M482.52 500.41h0M508.79 520.02h0M520.48 497.9h0M511.35 516.7h0M519.95 498.67h0M495.06 529.96h0M483.15 505.31h0M490.65 526.45h0M491.34 523.87h0M484.6 488.86h0M499.52 488.09h0M491.4 484.9h0M499.72 498.82h0M478.12 507.17h0M491.81 513.38h0M506.09 483.92h0M503.04 494.54h0M492.42 508.9h0M508.24 521.17h0M512.46 494.4h0M498.1 520.15h0M505.73 524.16h0M497.84 500.38h0M516.83 501.03h0M497.97 519.34h0M506.48 486.58h0M475.37 514.22h0M480.68 493.92h0M473.27 509.11h0" stroke-width="1.9" opacity="0.95"/>
<path d="M516.85 496.79h0M513.49 507.77h0M499.66 500.81h0M509.38 497.24h0M472.52 512.04h0M493.49 527.06h0M510.89 489.08h0M508.18 524.88h0M509.26 520.34h0M484.34 511.94h0M495.5 514.63h0M496.34 521.91h0M517.72 508.09h0M477.29 494.54h0M482.36 494.03h0M505.83 507.89h0M498.07 509.47h0" stroke-width="2.75" opacity="1.0"/>
</g>
<ellipse cx="508.5" cy="467.5" rx="1.3" ry="1.3" transform="rotate(0 508.5 467.5)" fill="#e90d09" opacity="0.9" filter="url(#nblur)"/>
</g>
<g clip-path="url(#k04)">
<ellipse cx="593" cy="498" rx="19.5" ry="31" transform="rotate(0 593 498)" fill="#063206" opacity="0.9" filter="url(#nblur)"/>
<ellipse cx="593" cy="498" rx="18.91" ry="30.07" transform="rotate(0 593 498)" fill="#1fe01f" opacity="0.23" filter="url(#mesh0)"/>
<g filter="url(#fblur)" stroke="#2bff2b" stroke-linecap="round" fill="none">
<path d="M577.13 502.77h0M586.31 473.12h0M587.66 501.04h0M599.26 470.65h0M583.74 515.48h0M585.54 486.83h0M578.31 515.47h0M589.74 479.89h0M594.63 486.06h0M603.15 513.84h0M586.08 499.49h0M587.3 522.82h0M582.76 514.06h0M602.21 491.84h0" stroke-width="1.95" opacity="0.75"/>
<path d="M597.52 472.28h0M592.97 498.62h0M594.22 482.74h0M591.49 479.2h0M589.63 486.22h0M596.24 483.73h0M606.81 512.55h0M585.95 491.03h0M578.19 495.83h0M586.75 496.41h0M589.87 510.06h0M592.34 494.88h0M604.36 504.35h0M610.35 494.38h0M602.52 485.4h0M596.8 477.71h0M592.79 482.82h0M585.7 488.12h0M582.61 510.27h0" stroke-width="3" opacity="0.95"/>
<path d="M586.39 486.08h0M581.56 519.87h0M588.3 493.31h0M598.49 508.29h0M603.63 499.82h0M587.94 504.73h0M592.51 517.77h0M592.64 516.86h0M583.15 473.57h0" stroke-width="4.35" opacity="1.0"/>
</g>
</g>
<g clip-path="url(#k05)">
<ellipse cx="688" cy="503" rx="34" ry="36" transform="rotate(0 688 503)" fill="#280201" opacity="0.9" filter="url(#nblur)"/>
<ellipse cx="688" cy="503" rx="32.98" ry="34.92" transform="rotate(0 688 503)" fill="#ff2818" opacity="0.16" filter="url(#mesh1)"/>
<g filter="url(#fblur)" stroke="#ff2222" stroke-linecap="round" fill="none">
<path d="M709.24 514.01h0M709.5 511.68h0M680.19 506.66h0M661.87 517.2h0M716.65 512.14h0M694.84 512.24h0M695.28 506.21h0M679.06 482.74h0M669.32 491.21h0M695.43 475.51h0M701.05 522.52h0M709.73 506.28h0M699.05 515.36h0M694.34 495.98h0M699.19 489.39h0M695.91 514.66h0M687.83 505.18h0M672.09 516.52h0M682.64 496.62h0M691.33 516.32h0M688.47 503.17h0M703.65 515.27h0M705.82 483.97h0M687.73 523.16h0M666.04 508.04h0M703.14 514.99h0M694.17 490.91h0M710.37 495.47h0M686.64 523.66h0M699.57 476.25h0M668.86 500.74h0M704.81 506.16h0M676.84 471.71h0M678 515.07h0M671.46 477.93h0M688.02 479.35h0" stroke-width="0.78" opacity="0.75"/>
<path d="M682.39 514.88h0M693.54 489.7h0M675.33 487.01h0M703.4 517.94h0M674.12 476.96h0M700.83 489.5h0M667.6 488.45h0M704.82 474.93h0M683.91 495.77h0M668.61 475.79h0M683.67 523.74h0M693.81 508.57h0M659.09 493.17h0M690.35 526.69h0M679.53 480.14h0M693.65 471.58h0M682.88 501.49h0M717.74 498.72h0M691.24 478.28h0M680.68 517.17h0M717.69 500.01h0M692.8 517.6h0M711.99 484.62h0M671.59 475.39h0M692.53 483.87h0" stroke-width="1.2" opacity="0.95"/>
<path d="M692.28 529.71h0M670 492.97h0M667.11 491.83h0M685.77 484.8h0M668.82 527.94h0M671.44 521.84h0M684.64 495.89h0M709.33 524.98h0M717.63 489.9h0" stroke-width="1.74" opacity="1.0"/>
</g>
<ellipse cx="684" cy="500" rx="36" ry="34" fill="#f01818" opacity="0.22" filter="url(#speck)"/>
</g>
<g clip-path="url(#k06)">
<ellipse cx="783" cy="498" rx="25" ry="19" transform="rotate(-22 783 498)" fill="#063206" opacity="0.9" filter="url(#nblur)"/>
<ellipse cx="783" cy="498" rx="24.25" ry="18.43" transform="rotate(-22 783 498)" fill="#1fe01f" opacity="0.23" filter="url(#mesh2)"/>
<g filter="url(#fblur)" stroke="#2bff2b" stroke-linecap="round" fill="none">
<path d="M792.71 512.97h0M779.31 494.04h0M795.89 509.38h0M784.26 500.23h0M769.03 513.78h0M801.05 496.63h0M774.51 497.83h0M795.95 488.24h0M789.17 488.43h0M764.32 504.79h0M783.83 499.79h0M785.86 509.44h0M788 480.12h0M780.38 505.79h0M788.92 507.99h0M770.86 510.27h0M789.43 498.6h0M785.98 497.77h0M775.47 516.41h0M799.43 490.47h0M796.53 490.1h0" stroke-width="1.95" opacity="0.75"/>
<path d="M793.06 493.89h0M769.82 506.65h0M772.86 492.5h0M797.09 487.38h0M787.11 491.38h0M801.19 499.96h0M800.32 485.48h0M788.24 503.02h0M777.54 505.02h0M792.29 492.87h0M782.96 500.15h0M769.37 501.98h0M773.75 511.39h0M805.54 492.85h0M767.82 495.69h0M789.29 501.07h0" stroke-width="3" opacity="0.95"/>
<path d="M793.71 500.16h0M765.34 505.38h0M777.02 500.1h0M764.3 505.05h0M785.51 489.32h0" stroke-width="4.35" opacity="1.0"/>
</g>
<ellipse cx="808" cy="457" rx="8" ry="2" transform="rotate(0 808 457)" fill="#129b12" opacity="0.9" filter="url(#nblur)"/>
</g>
<g clip-path="url(#k07)">
<polygon points="879.3,456.8 913.8,456.8 913.8,487.5 876,515 825.9,534.7 825.9,494 851.6,474.4" fill="#8a0c0c" opacity="0.42" filter="url(#nblur2)"/>
<polygon points="879.3,456.8 913.8,456.8 913.8,487.5 876,515 825.9,534.7 825.9,494 851.6,474.4" fill="#f01818" opacity="0.3" filter="url(#speck)"/>
</g>
<g clip-path="url(#k10)">
<ellipse cx="207" cy="595" rx="16.5" ry="15" transform="rotate(20 207 595)" fill="#063506" opacity="0.9" filter="url(#nblur)"/>
<ellipse cx="207" cy="595" rx="16" ry="14.55" transform="rotate(20 207 595)" fill="#1fe01f" opacity="0.25" filter="url(#mesh1)"/>
<g filter="url(#fblur)" stroke="#2bff2b" stroke-linecap="round" fill="none">
<path d="M201.57 587.36h0M207.82 595.56h0M215.53 595.08h0M211.85 591.78h0M196.28 599.46h0M209.23 591.16h0M216.5 584.65h0M199.5 596.13h0M203.77 589.52h0M198.78 600.19h0M207.75 586.78h0M196.14 589.56h0M196.8 591.97h0M200.89 593.17h0M216.92 596.7h0M217.71 599.1h0M196.05 595.18h0M208.75 581.63h0M207.41 603.53h0M207.2 601.57h0" stroke-width="1.56" opacity="0.75"/>
<path d="M199.69 588.03h0M206.39 607.94h0M205.24 589.37h0M205.41 585.29h0M205.69 589.82h0M221.94 598.79h0M215.26 592.93h0M203.06 595.08h0M204.1 595.46h0M215.55 586.92h0M211.99 592.18h0M200.7 594.4h0M216.48 586.39h0M214.07 602.46h0M193.5 599.06h0M195.33 596.31h0M210.17 598.91h0M217.4 598.3h0M209.49 581.7h0M209.13 601.85h0M206.05 583.44h0M214.84 588.64h0M215.12 597.01h0" stroke-width="2.4" opacity="0.95"/>
<path d="M201.39 599.65h0M210.13 596.07h0M204.05 604.9h0M194.66 596.17h0M217.2 596.37h0M220.24 592.92h0M211.26 605.62h0" stroke-width="3.48" opacity="1.0"/>
</g>
<ellipse cx="243.6" cy="586" rx="15" ry="12.5" transform="rotate(30 243.6 586)" fill="#063506" opacity="0.9" filter="url(#nblur)"/>
<ellipse cx="243.6" cy="586" rx="14.55" ry="12.12" transform="rotate(30 243.6 586)" fill="#1fe01f" opacity="0.24" filter="url(#mesh2)"/>
<g filter="url(#fblur)" stroke="#2bff2b" stroke-linecap="round" fill="none">
<path d="M246.37 583.54h0M241.94 576.18h0M252.12 591.86h0M243.11 591.99h0M242.66 577.55h0M245 579.38h0M231.2 586.23h0M255.99 589.87h0M251.78 589.66h0M239.93 575.09h0M245.85 582.6h0M243.66 595.25h0M242.71 596.41h0M242.58 581.74h0M237.56 589.08h0M249.12 594.8h0M249.02 584.77h0M255.88 586.35h0M239.56 578.28h0M253.95 595.21h0M239.94 579.65h0M244.53 583h0" stroke-width="1.56" opacity="0.75"/>
<path d="M234.1 582.61h0M243.23 594.78h0M250.07 596.39h0M234.73 582.93h0M234.37 579.35h0M256 592.96h0M241.28 588.19h0M241.06 597.2h0M245.17 588.9h0M242.1 591.92h0M239.7 578.78h0M252.95 588.98h0M244.73 579.98h0M234.99 576.41h0" stroke-width="2.4" opacity="0.95"/>
<path d="M233.47 583.17h0M253.88 595.47h0M247.89 592.6h0M242.08 592.05h0M248.93 581.94h0M241.88 593.35h0M242.61 582.05h0M242.77 596.48h0M242.1 597.75h0" stroke-width="3.48" opacity="1.0"/>
</g>
<ellipse cx="186" cy="556" rx="19" ry="15" transform="rotate(0 186 556)" fill="#063206" opacity="0.9" filter="url(#nblur)"/>
<ellipse cx="186" cy="556" rx="18.43" ry="14.55" transform="rotate(0 186 556)" fill="#1fe01f" opacity="0.23" filter="url(#mesh0)"/>
<g filter="url(#fblur)" stroke="#2bff2b" stroke-linecap="round" fill="none">
<path d="M187.18 557.16h0M193.32 563.48h0M199.35 561.34h0M172.32 563.38h0M194.93 562.02h0M180.55 566.38h0M184.66 552.95h0M190.58 547.74h0M175.73 550.42h0M200.54 554.28h0M192.61 560.53h0M202.12 558.27h0M177.55 555.2h0M173.89 564.09h0M195.24 557.72h0M194.59 567.9h0M181.16 561.87h0M198.81 555.9h0M171.85 557.6h0M202.12 551.57h0M181.67 568.87h0" stroke-width="1.43" opacity="0.75"/>
<path d="M171.55 557.84h0M183.55 568.68h0M175.16 549.66h0M189.64 554.07h0M202.02 561.08h0M176.22 564.97h0M169.8 555.09h0M178.76 554.14h0M183.31 553.54h0M188.45 563.31h0M195.34 556.31h0M178.96 567.36h0M180.46 550.76h0M198.16 552.47h0" stroke-width="2.2" opacity="0.95"/>
<path d="M201.08 563.66h0M201.1 558.31h0M198.1 553.47h0M191.82 567.44h0M199.76 558.79h0" stroke-width="3.19" opacity="1.0"/>
</g>
<ellipse cx="176" cy="624" rx="8" ry="9" transform="rotate(0 176 624)" fill="#063206" opacity="0.9" filter="url(#nblur)"/>
</g>
<g clip-path="url(#k11)">
<ellipse cx="314" cy="592" rx="40" ry="40" transform="rotate(0 314 592)" fill="#160100" opacity="0.9" filter="url(#nblur)"/>
<ellipse cx="314" cy="592" rx="38.8" ry="38.8" transform="rotate(0 314 592)" fill="#ff2818" opacity="0.05" filter="url(#mesh2)"/>
<g filter="url(#fblur)" stroke="#ff2222" stroke-linecap="round" fill="none">
<path d="M332.41 584.76h0M310.92 561.32h0M329.79 607.41h0M324.62 628.05h0M335.93 569.4h0M288.37 575.94h0M322.84 615.99h0M322.02 566.34h0M318.72 581.66h0M346.19 597.72h0M335.66 606.69h0M338.43 564.45h0M332.1 584.72h0M313.1 615.65h0M306.53 628h0M313.93 599.12h0M326.5 572.69h0" stroke-width="0.78" opacity="0.75"/>
<path d="M338.94 611.81h0M304.39 570.08h0M301.83 607.09h0M304.05 581.18h0M306.06 578.77h0M339.12 590.49h0M343.44 611.92h0M302.56 590.13h0M303.02 566.47h0M288.99 594.38h0M333.8 616.97h0M294.16 602.41h0M325.32 619.92h0M299.59 626.81h0M312.27 610.87h0M331.79 581.8h0M294.68 612.9h0M344.92 580.27h0M341.19 585.01h0M299.68 625.41h0" stroke-width="1.2" opacity="0.95"/>
<path d="M327.21 604.16h0M345.67 595.82h0M319.74 609.3h0" stroke-width="1.74" opacity="1.0"/>
</g>
<ellipse cx="314" cy="592" rx="32" ry="32" fill="#f01818" opacity="0.12" filter="url(#speck)"/>
</g>
<g clip-path="url(#k12)">
<ellipse cx="380.6" cy="570" rx="21" ry="16" transform="rotate(35 380.6 570)" fill="#063906" opacity="0.9" filter="url(#nblur)"/>
<ellipse cx="380.6" cy="570" rx="20.37" ry="15.52" transform="rotate(35 380.6 570)" fill="#1fe01f" opacity="0.29" filter="url(#mesh0)"/>
<g filter="url(#fblur)" stroke="#2bff2b" stroke-linecap="round" fill="none">
<path d="M382.21 586.57h0M388.61 575.6h0M382.81 562.06h0M386.3 574.8h0M383.36 575.65h0M367.59 568.52h0M391.47 574.08h0M367.69 576.58h0M391.28 571.42h0M384.78 563h0M398.32 571.26h0M373.29 556.34h0M381.51 571.53h0M378.92 559.64h0M397.82 571.18h0M380.41 560.3h0M374.82 565.15h0M381.41 561.03h0M374.25 556.03h0M382.16 575.3h0M394.83 580.44h0M394.42 578.47h0M376.66 573.86h0M383.19 556.28h0M389.23 570.15h0M384.7 569.59h0M363.25 566.24h0M375.98 558.62h0" stroke-width="1.69" opacity="0.75"/>
<path d="M382.53 570.91h0M373.06 564.08h0M375.4 568.87h0M395.91 574.87h0M364.34 561.95h0M390.77 585.07h0M374.65 566.84h0M383.93 573.57h0M373.04 559.37h0M375.47 555.85h0M367.68 576.52h0M382.73 565.44h0M386.1 560.16h0M392.17 571.66h0M378.86 554.69h0M373.01 558.14h0M372.14 570.66h0M375.45 565.59h0M373.56 566.59h0M379.24 562.37h0M391.53 562.49h0M372.72 558.93h0M368.58 563.7h0M368.19 565.14h0" stroke-width="2.6" opacity="0.95"/>
<path d="M395.35 569.81h0M374.63 582.85h0M386.81 565.97h0M367.67 571.74h0M378.65 559.28h0M392.22 577.74h0M372.01 576.69h0M364.32 570.54h0M369.26 562.07h0M390.4 575.94h0M385.61 576.3h0M374.51 560.81h0M387.29 564.06h0M384.63 572.79h0M368.58 566.55h0M389.27 574.71h0M389.17 577.59h0M380.88 583.45h0" stroke-width="3.77" opacity="1.0"/>
</g>
<ellipse cx="418.3" cy="614" rx="18.5" ry="14.5" transform="rotate(35 418.3 614)" fill="#063906" opacity="0.9" filter="url(#nblur)"/>
<ellipse cx="418.3" cy="614" rx="17.95" ry="14.06" transform="rotate(35 418.3 614)" fill="#1fe01f" opacity="0.27" filter="url(#mesh1)"/>
<g filter="url(#fblur)" stroke="#2bff2b" stroke-linecap="round" fill="none">
<path d="M407.68 615.47h0M411.38 622.53h0M411.29 618.31h0M428.5 608.3h0M405.64 608.71h0M415.25 621.1h0M424.83 608.93h0M415.59 599.29h0M426.44 607.93h0M423.28 618.4h0M417.6 604.55h0M416.93 600.45h0M420.41 618.52h0M414.76 618.61h0M405.88 602.74h0M419.77 623.4h0M420.4 616.18h0M421.41 620.9h0M420.42 619.08h0M428.69 613.51h0M425.28 612.99h0M425.57 620.37h0M418.18 601.43h0M424.7 621.63h0M420.94 605.5h0M416.42 606.88h0M428.67 623.17h0M431.61 619.53h0M426.76 608.45h0M425.66 603.14h0" stroke-width="1.69" opacity="0.75"/>
<path d="M407.94 610.28h0M422.36 607.49h0M429.84 626.61h0M419.19 622.28h0M426.67 625.51h0M430.87 624.07h0M429.62 616.26h0M405.74 608.93h0M408.36 612.72h0M404.82 603.42h0M421.92 609.99h0M404.81 607.74h0M418.01 599.76h0M417.08 625.74h0M409.61 619.09h0M406.36 607.88h0M414.11 611.36h0M404.07 607.57h0M414.69 622.64h0M417.7 602.11h0M430.07 616.14h0M413.12 605.56h0M430.98 625.16h0" stroke-width="2.6" opacity="0.95"/>
<path d="M426.36 617.34h0M429.31 622.47h0M423.03 626.44h0M425.32 612.01h0M419.6 618.17h0M417.17 610.44h0M405.23 604.5h0" stroke-width="3.77" opacity="1.0"/>
</g>
</g>
<g clip-path="url(#k13)">
<ellipse cx="473.5" cy="572" rx="21.7" ry="19.5" transform="rotate(20 473.5 572)" fill="#4a0402" opacity="0.9" filter="url(#nblur)"/>
<ellipse cx="473.5" cy="572" rx="21.05" ry="18.91" transform="rotate(20 473.5 572)" fill="#ff2818" opacity="0.32" filter="url(#mesh2)"/>
<g filter="url(#fblur)" stroke="#ff2222" stroke-linecap="round" fill="none">
<path d="M471.89 565.86h0M457.36 577.46h0M488.36 566.8h0M486.31 559.23h0M456.99 581.28h0M482.09 556.98h0M484.76 570.52h0M488.5 569.35h0M489.94 579.03h0M475.58 561.88h0M492.42 577.33h0M460.8 560.97h0M465.08 574.43h0M475.55 578.06h0M491.54 570.03h0M486.18 563.06h0M469.62 584.95h0M461.9 563.07h0M491.06 574.91h0M467.5 577.61h0M454.51 573.79h0M477.31 562.53h0M478.95 560.83h0M480.94 562.3h0M487.27 559.37h0M490 578.81h0M480.11 556.46h0M475.61 562.32h0M462.31 580.41h0M463.08 568.57h0M468.27 586.37h0M473.45 583.33h0M491.15 576.72h0M477.8 585.71h0M491.61 565.48h0M479.79 561.61h0M468.18 579.49h0M473.59 573.57h0M466.4 568.76h0M481.66 557.6h0M462.94 572.16h0" stroke-width="1.04" opacity="0.75"/>
<path d="M463.95 585.25h0M462.62 567.93h0M478.66 587.33h0M482.83 572.89h0M486.83 586.25h0M480.84 574.5h0M469.41 573.73h0M457.91 559.58h0M464.6 576.63h0M474.19 586.59h0M467.67 567.54h0M462.92 570.26h0M477.48 554.26h0M485.15 564.14h0M479.64 571.54h0M477.7 576.14h0M476 582.08h0M461.07 568.5h0M488.98 580.65h0M459.95 558.06h0M464.27 560.92h0M474.24 586.25h0M459.44 566.5h0M483.45 563.67h0M472.74 581.61h0M473.49 568.89h0M485.02 587.11h0M486.74 579.18h0M466.02 567.19h0M468.4 581.68h0M466 581.79h0M459.83 576.22h0M463.62 566h0M469.33 565.06h0M479.83 557.25h0M482 580.17h0M459.65 584.4h0M486.49 559.82h0M471.89 589.29h0" stroke-width="1.6" opacity="0.95"/>
<path d="M457.05 563.57h0M486.41 572.48h0M487.47 583.85h0M467.09 561.87h0M483.17 576.29h0M488.85 569h0M471.2 586.8h0M460.61 567.9h0M465.92 574.88h0M461.56 584.76h0" stroke-width="2.32" opacity="1.0"/>
</g>
<ellipse cx="511" cy="615.7" rx="18" ry="17.5" transform="rotate(30 511 615.7)" fill="#3d0302" opacity="0.9" filter="url(#nblur)"/>
<ellipse cx="511" cy="615.7" rx="17.46" ry="16.97" transform="rotate(30 511 615.7)" fill="#ff2818" opacity="0.25" filter="url(#mesh0)"/>
<g filter="url(#fblur)" stroke="#ff2222" stroke-linecap="round" fill="none">
<path d="M509.9 629.24h0M500.34 611.19h0M503.79 627.5h0M519.12 617.19h0M516.21 604.21h0M508.27 624.38h0M521.97 608.81h0M521.38 609.03h0M511.86 622.2h0M509.41 603.42h0M510.12 626.44h0M496.9 617.26h0M497.32 622.8h0M521.41 623.36h0M517.58 607.13h0M506.83 604.86h0M526.58 611.88h0M514.5 607.34h0M519.67 616.53h0M525.31 617.67h0M513.71 613.38h0M506.17 621.73h0M513.81 629.25h0M511.66 632.24h0M508.69 632.2h0M506.12 608.14h0M513.44 628.99h0M514.52 629.53h0M503.67 610.73h0M503.69 611.52h0M499.69 608.56h0" stroke-width="1.04" opacity="0.75"/>
<path d="M508.82 627.16h0M511.9 600.1h0M518.47 618.64h0M501.42 606.68h0M513.06 629.44h0M511.4 623.31h0M500.24 614.21h0M516.86 628.65h0M503.6 609.04h0M524.46 615.34h0M522.31 607.81h0M516.66 618.3h0M522.47 613.5h0M515.47 631.91h0M511.53 630.09h0M498.83 614.82h0M505.77 614.24h0M524.76 607.27h0M517.88 600.81h0M523.48 609.33h0M513.22 624.66h0M516.92 623.46h0M498.87 616.21h0M516.88 630.08h0M502.58 628.29h0M507.15 612.4h0M499.27 619.57h0M498.61 605.16h0M524 610.98h0M496.42 617.3h0M519.27 626.07h0" stroke-width="1.6" opacity="0.95"/>
<path d="M511.59 600.87h0M514.89 626.71h0M510.66 630.52h0M512.58 616.56h0M526.39 611.77h0M521.95 624.02h0M520.01 622.25h0M519.14 619.9h0" stroke-width="2.32" opacity="1.0"/>
</g>
</g>
<g clip-path="url(#k14)">
<ellipse cx="575.5" cy="568.6" rx="15" ry="14" transform="rotate(0 575.5 568.6)" fill="#052f05" opacity="0.9" filter="url(#nblur)"/>
<g filter="url(#fblur)" stroke="#2bff2b" stroke-linecap="round" fill="none">
<path d="M574.16 573.57h0M574.97 576.19h0M581.84 573.35h0M569.7 566.08h0M578.58 577.96h0M574.18 556.75h0" stroke-width="1.82" opacity="0.75"/>
<path d="M569.92 558.03h0M585.37 575.23h0" stroke-width="2.8" opacity="0.95"/>
<path d="M566.58 568h0" stroke-width="4.06" opacity="1.0"/>
</g>
<ellipse cx="608" cy="616.4" rx="14" ry="15" transform="rotate(0 608 616.4)" fill="#063206" opacity="0.9" filter="url(#nblur)"/>
<g filter="url(#fblur)" stroke="#2bff2b" stroke-linecap="round" fill="none">
<path d="M602.23 618.43h0M614.47 611.92h0M616.78 621.68h0M605.69 627.98h0" stroke-width="1.69" opacity="0.75"/>
<path d="M617.14 609.8h0M613.6 612.3h0M618.27 608.92h0M599.7 607.2h0M612.81 619.88h0M609.5 617.87h0" stroke-width="2.6" opacity="0.95"/>
<path d="M612.14 624.39h0M613.99 621.26h0" stroke-width="3.77" opacity="1.0"/>
</g>
</g>
<g clip-path="url(#k15)">
<ellipse cx="671" cy="568.6" rx="28" ry="24" transform="rotate(0 671 568.6)" fill="#280201" opacity="0.9" filter="url(#nblur)"/>
<ellipse cx="671" cy="568.6" rx="27.16" ry="23.28" transform="rotate(0 671 568.6)" fill="#ff2818" opacity="0.14" filter="url(#mesh0)"/>
<g filter="url(#fblur)" stroke="#ff2222" stroke-linecap="round" fill="none">
<path d="M671.13 569.88h0M672.43 579.53h0M667.34 565.8h0M673.23 588.65h0M651.01 583.56h0M649.14 562.46h0M675.63 577.13h0M668.02 575.47h0M680.14 550.09h0M654.73 569.4h0M678.63 562.15h0M674.16 564.15h0M666.73 582.91h0M670.4 564.8h0M667.21 588.32h0M660.73 548.15h0M659.36 562.76h0M695.47 563.03h0M677.75 572.52h0" stroke-width="0.78" opacity="0.75"/>
<path d="M682.25 584.9h0M658.74 569.99h0M677.77 553.34h0M664.98 565.53h0M663.91 575.2h0M689.13 584.12h0M656.25 564.31h0M695.67 564.4h0M672.63 551.28h0M684.19 579.55h0M657.45 576.01h0M679.01 569.77h0M689.71 567.88h0M655.62 557.85h0M685.05 562.66h0M678.97 549.74h0M693.85 566.56h0M670.64 590.92h0M657.04 559.75h0M679.63 558.33h0" stroke-width="1.2" opacity="0.95"/>
<path d="M693.86 568.3h0M661.95 568.72h0M672.98 572.65h0M678.73 589.48h0M662.11 551.48h0M687.39 564.83h0M690.84 564.4h0M685.02 574.2h0M683.49 551.32h0M653.25 558.44h0M661.57 571.4h0" stroke-width="1.74" opacity="1.0"/>
</g>
<ellipse cx="705" cy="610" rx="25" ry="26" transform="rotate(0 705 610)" fill="#2c0201" opacity="0.9" filter="url(#nblur)"/>
<ellipse cx="705" cy="610" rx="24.25" ry="25.22" transform="rotate(0 705 610)" fill="#ff2818" opacity="0.15" filter="url(#mesh1)"/>
<g filter="url(#fblur)" stroke="#ff2222" stroke-linecap="round" fill="none">
<path d="M713.59 607.6h0M715.19 609.91h0M707.66 634.04h0M722.74 600.43h0M718.4 597.14h0M703.77 634.13h0M716.39 603.14h0M695.38 622.78h0M713.32 626.08h0M698.3 623.01h0M702.29 590.39h0M695.81 599.21h0M699.43 594.79h0M727.55 616.32h0M713.14 617.76h0M711.73 602.18h0M718.33 619.72h0M707.34 605.83h0M707.51 606.35h0M701.78 593.5h0M706.48 622.65h0M725.43 614.03h0" stroke-width="0.78" opacity="0.75"/>
<path d="M686.55 595.85h0M713.04 631.18h0M686.85 601.65h0M709.51 586.33h0M718.52 627.49h0M707.09 615.02h0M727.38 614.78h0M689.89 608.28h0M693.75 603.32h0M689.93 605.65h0M725.94 599.67h0M721.91 614.16h0M698.58 601.15h0M719.41 615.09h0M719.17 602.02h0M687.81 610.16h0M725.45 608.83h0M709.58 588.15h0M708 608.83h0M690.34 610.96h0M701.56 605.33h0M701.12 606.92h0" stroke-width="1.2" opacity="0.95"/>
<path d="M696.89 598.18h0M724.33 601.75h0M698.06 608.71h0M699.01 614.49h0M693.65 627.58h0M700.24 601.53h0" stroke-width="1.74" opacity="1.0"/>
</g>
<ellipse cx="668" cy="567" rx="24" ry="17" fill="#f01818" opacity="0.24" filter="url(#speck)"/>
<ellipse cx="706" cy="609" rx="21" ry="23" fill="#f01818" opacity="0.28" filter="url(#speck)"/>
</g>
<g clip-path="url(#k16)">
<ellipse cx="755.3" cy="586" rx="13" ry="14" transform="rotate(0 755.3 586)" fill="#052c05" opacity="0.9" filter="url(#nblur)"/>
<g filter="url(#fblur)" stroke="#2bff2b" stroke-linecap="round" fill="none">
<path d="M763.52 591.13h0M750.92 585.1h0M753.4 575.99h0" stroke-width="1.69" opacity="0.75"/>
<path d="M749.84 588.13h0M758.87 586.6h0M747.52 590.52h0M753.43 588.47h0M746.81 580.27h0M762.61 584.54h0M748.96 593.39h0M753.88 589.58h0" stroke-width="2.6" opacity="0.95"/>
<path d="M766.01 580.11h0" stroke-width="3.77" opacity="1.0"/>
</g>
<ellipse cx="790.5" cy="593.8" rx="11.5" ry="10.5" transform="rotate(0 790.5 593.8)" fill="#052f05" opacity="0.9" filter="url(#nblur)"/>
<g filter="url(#fblur)" stroke="#2bff2b" stroke-linecap="round" fill="none">
<path d="M788.15 584.91h0M798.47 598.53h0M790 587.17h0M792.9 590.5h0M787.76 600.7h0M798.75 587.86h0M792.78 592.18h0" stroke-width="1.56" opacity="0.75"/>
<path d="M795.31 593.75h0M787.99 585.62h0M793.55 592.95h0" stroke-width="2.4" opacity="0.95"/>
<path d="M781.02 597.14h0M796.37 598.56h0" stroke-width="3.48" opacity="1.0"/>
</g>
</g>
<g clip-path="url(#k17)">
<polygon points="828.8,554.2 863,554.2 871.2,578.7 898.8,588.4 898.8,604.7 863,612.9 838.6,612.9 828.8,596.6" fill="#8a0c0c" opacity="0.45" filter="url(#nblur2)"/>
<polygon points="828.8,554.2 863,554.2 871.2,578.7 898.8,588.4 898.8,604.7 863,612.9 838.6,612.9 828.8,596.6" fill="#f01818" opacity="0.34" filter="url(#speck)"/>
</g>
<g clip-path="url(#k20)">
<ellipse cx="224.7" cy="680.5" rx="19" ry="19" transform="rotate(0 224.7 680.5)" fill="#063806" opacity="0.9" filter="url(#nblur)"/>
<ellipse cx="224.7" cy="680.5" rx="18.43" ry="18.43" transform="rotate(0 224.7 680.5)" fill="#1fe01f" opacity="0.27" filter="url(#mesh1)"/>
<g filter="url(#fblur)" stroke="#2bff2b" stroke-linecap="round" fill="none">
<path d="M241.7 685.14h0M228.18 673.65h0M217.95 684.52h0M223.89 684.36h0M222 684.19h0M224.99 672.05h0M235.21 677.12h0M210.33 684.43h0M213.72 694.67h0M233.38 694.87h0M237.83 675.29h0M230.86 689.55h0M230.53 675.82h0M233.49 675.1h0M220.73 696.21h0M222.21 697.03h0M212.75 685.53h0M217.9 690.95h0M226.54 669.83h0M230.01 682.3h0M213.39 674.03h0M241.71 677.93h0M235.3 666.06h0M235.51 668.31h0M241.32 686.81h0" stroke-width="1.56" opacity="0.75"/>
<path d="M212.26 692.63h0M228.47 696.92h0M220.66 691.54h0M235.32 691.04h0M208.66 679.26h0M220.99 676.23h0M220.06 681.67h0M231.95 682.39h0M226.84 692.06h0M213.04 685.5h0M220.39 680.97h0M230.34 667.34h0M216.32 681.67h0M211.91 674.34h0M215.2 683.46h0M225.11 668.85h0M221.17 667.38h0M224.99 682.77h0M224.37 686.51h0M221.97 678.74h0M209.79 690.12h0M236.28 688.2h0M227.5 671.66h0M221.16 671.4h0M213.9 681.31h0M235.36 670.26h0M220.56 665.32h0M239.84 689.41h0" stroke-width="2.4" opacity="0.95"/>
<path d="M218.99 681.61h0M218.29 679.9h0M237.18 688.71h0M227.47 693.62h0M221.13 695.65h0M221.66 690.15h0M232.71 674.33h0" stroke-width="3.48" opacity="1.0"/>
</g>
<ellipse cx="181" cy="641" rx="9" ry="8" transform="rotate(0 181 641)" fill="#063506" opacity="0.9" filter="url(#nblur)"/>
<g filter="url(#fblur)" stroke="#2bff2b" stroke-linecap="round" fill="none">
<path d="M180.93 637.58h0M182.91 633.7h0M184.73 639.64h0" stroke-width="1.3" opacity="0.75"/>
<path d="M179.36 639.93h0M181.16 639.45h0M186.45 640.6h0" stroke-width="2" opacity="0.95"/>
<path d="M174.19 640.9h0M174.59 637h0" stroke-width="2.9" opacity="1.0"/>
</g>
</g>
<g clip-path="url(#k21)">
<ellipse cx="316.5" cy="679" rx="17" ry="17" transform="rotate(0 316.5 679)" fill="#230201" opacity="0.9" filter="url(#nblur)"/>
<ellipse cx="316.5" cy="679" rx="16.49" ry="16.49" transform="rotate(0 316.5 679)" fill="#ff2818" opacity="0.11" filter="url(#mesh0)"/>
<g filter="url(#fblur)" stroke="#ff2222" stroke-linecap="round" fill="none">
<path d="M316.27 691.64h0M324.73 684.88h0M314.98 695.06h0M309.54 689.06h0M311.63 679.33h0M325.36 682.33h0M303.3 671.1h0M316.1 678.08h0M326.42 685.94h0M307.47 692.32h0M321.72 671.96h0M302.24 682.44h0M304.14 670.61h0M321.71 669.68h0M320.71 692.98h0" stroke-width="0.98" opacity="0.75"/>
<path d="M317.86 682.9h0M311.59 687.54h0M322.77 693.07h0M330.44 685.71h0M329.52 686.02h0M332.4 680.21h0M308.56 668.02h0M316.44 663.42h0M309.96 677.73h0M318.44 678.61h0M312.7 688.98h0M310.66 686.75h0M320.74 687.68h0M309.88 678.28h0M316.17 691.04h0M313.11 689.46h0M319.07 670.59h0M324.25 667.44h0M317.52 686h0M307.49 679.51h0" stroke-width="1.5" opacity="0.95"/>
<path d="M308.45 668.13h0M315.69 665.93h0M318.26 667.11h0M315.58 679.23h0M311.72 687.79h0" stroke-width="2.17" opacity="1.0"/>
</g>
</g>
<g clip-path="url(#k22)">
<ellipse cx="404.5" cy="683" rx="20.5" ry="17" transform="rotate(35 404.5 683)" fill="#063806" opacity="0.9" filter="url(#nblur)"/>
<ellipse cx="404.5" cy="683" rx="19.88" ry="16.49" transform="rotate(35 404.5 683)" fill="#1fe01f" opacity="0.25" filter="url(#mesh1)"/>
<g filter="url(#fblur)" stroke="#2bff2b" stroke-linecap="round" fill="none">
<path d="M395.98 681.54h0M410.47 681.21h0M411.41 689.51h0M406.78 669.66h0M398.35 694.85h0M400.28 686.87h0M404.41 693.33h0M414.02 672.03h0M419.08 682.06h0M403.88 697.82h0M406.17 672.32h0M401.04 698.41h0M405.35 668.28h0M393.73 673.55h0M389.42 679.63h0M414 681.65h0M406.67 683.97h0M405.1 671h0M414.64 688.95h0M401.81 689.7h0M407.79 697.19h0M392.15 673.27h0M416.69 682.96h0M408.09 673.31h0M414.26 674.31h0M406.85 678.72h0M400.59 671.16h0M394.66 677.3h0" stroke-width="1.69" opacity="0.75"/>
<path d="M406.69 689.18h0M404 689.11h0M408.52 699.44h0M417.78 693.74h0M389.66 672.71h0M396.48 673.15h0M409.02 677.49h0M406.54 673.72h0M392 686.77h0M392.12 682.74h0M410.71 691.47h0M403.83 680.44h0M400.07 682.46h0M403.63 685.93h0M415.19 682.68h0" stroke-width="2.6" opacity="0.95"/>
<path d="M413.9 688.53h0M397.1 692.01h0M395.41 683.6h0M389.7 671.94h0M391.4 670.96h0M408.47 686.33h0M407.26 682.67h0" stroke-width="3.77" opacity="1.0"/>
</g>
</g>
<g clip-path="url(#k23)">
<ellipse cx="497.5" cy="682" rx="21" ry="20" transform="rotate(0 497.5 682)" fill="#530403" opacity="0.9" filter="url(#nblur)"/>
<ellipse cx="497.5" cy="682" rx="20.37" ry="19.4" transform="rotate(0 497.5 682)" fill="#ff2818" opacity="0.38" filter="url(#mesh2)"/>
<g filter="url(#fblur)" stroke="#ff2222" stroke-linecap="round" fill="none">
<path d="M494.08 695.18h0M480.52 691.49h0M488.61 685.07h0M482.58 689.86h0M503.8 692.98h0M501.47 668.26h0M483.82 674.06h0M484.52 670.69h0M508.67 677.6h0M504.34 690.97h0M498.18 671.48h0M495.68 681.84h0M488.41 684.87h0M502.47 694.57h0M503.66 687.03h0M501.38 664.71h0M485.06 668.73h0M508.14 685.68h0M510.29 672.55h0M485.39 666.92h0M515.21 675.34h0M486.64 684.4h0M493.88 692.19h0M497.37 693.01h0M498.88 663.23h0M498.12 673.06h0M486.79 693.5h0M498.63 684.12h0M499.82 690.47h0M482.17 678.96h0M505.46 667.79h0M487.94 672.62h0M490.76 685.28h0M485.4 690.72h0M512.58 691.2h0M489.68 674.75h0M501.54 664.56h0M505.35 692.51h0M511.34 689.73h0M498.8 680.69h0M509.07 693.85h0M500.39 692.44h0M497.98 690.81h0M501.87 690.72h0M482.96 674.26h0M500.78 673.55h0M486.87 681.9h0M510.18 684.75h0M504.02 678.37h0M496.88 692.58h0M506.85 675.61h0" stroke-width="1.17" opacity="0.75"/>
<path d="M486.3 678.67h0M508.95 681.91h0M492.48 672.79h0M499.91 693.96h0M480.28 680.38h0M487.2 689.33h0M478.63 685.83h0M489.45 698.03h0M515.51 677.56h0M488.13 697.44h0M484.63 670.32h0M490.96 696.44h0M505.59 675.32h0M486.24 686.65h0M504.36 691.04h0M504.91 695.57h0M499.26 684.92h0M492.95 667.91h0M509.61 682.64h0M498.74 690.83h0M492.62 696.71h0M496.67 700.85h0M494.51 699.73h0M486.64 693.44h0M496.02 688.03h0M492.81 665.52h0M503.27 678.19h0M486.67 696.9h0M514.47 677.99h0M502.96 674.17h0M496.45 666.11h0M500.48 681.28h0M490.38 667.55h0M501.07 667.57h0M494.93 687.59h0M495.89 665.75h0M479.31 678.28h0M491.38 691.8h0M485.22 689.67h0M491.43 689.53h0M516.15 686.48h0M496.83 672.37h0M500.8 698.27h0M489.24 671.32h0" stroke-width="1.8" opacity="0.95"/>
<path d="M514.24 678.68h0M500.42 691.63h0M516.49 684.5h0M502.59 687.56h0M484.49 669.15h0M499.18 691.05h0M511.47 686.6h0M505.31 687.93h0M493.04 691.43h0M500.42 695.2h0M499.76 666.54h0M498 682.79h0M482.89 686.83h0M504.02 680.66h0M510.62 689.54h0" stroke-width="2.61" opacity="1.0"/>
</g>
</g>
<g clip-path="url(#k24)">
<ellipse cx="594.3" cy="681.8" rx="21" ry="19" transform="rotate(-15 594.3 681.8)" fill="#074107" opacity="0.9" filter="url(#nblur)"/>
<g filter="url(#fblur)" stroke="#2bff2b" stroke-linecap="round" fill="none">
<path d="M583.64 682.21h0M587.51 676.58h0M595.8 686.43h0M606.77 686.95h0M599.09 665.15h0" stroke-width="1.43" opacity="0.75"/>
<path d="M608.99 675.23h0M597.29 682.18h0M582.77 670.49h0" stroke-width="2.2" opacity="0.95"/>
<path d="M584.23 693.51h0M576.77 690.96h0M599.41 668.31h0M583.9 671.33h0" stroke-width="3.19" opacity="1.0"/>
</g>
</g>
<g clip-path="url(#k25)">
<ellipse cx="690" cy="680" rx="36" ry="36" transform="rotate(0 690 680)" fill="#160100" opacity="0.9" filter="url(#nblur)"/>
<ellipse cx="690" cy="680" rx="34.92" ry="34.92" transform="rotate(0 690 680)" fill="#ff2818" opacity="0.06" filter="url(#mesh1)"/>
<g filter="url(#fblur)" stroke="#ff2222" stroke-linecap="round" fill="none">
<path d="M701.43 680.88h0M684.86 668.35h0M693.4 709.57h0M688.37 652.22h0M667.69 674.92h0M700.43 679.76h0M710.18 671.98h0M708.68 659.69h0M698.43 652.03h0M679.86 667.61h0M679.83 696.96h0M663.07 672.03h0M686.44 670.04h0M701.03 690.27h0M659.63 680.35h0M701.12 682.71h0M710.11 678.1h0M677.13 692.84h0M715.49 688.28h0M700.8 709.04h0M658.66 675.16h0M685.19 657.13h0M705.88 707.31h0M678.58 685.83h0M687.09 649.03h0M665.69 658.64h0" stroke-width="0.72" opacity="0.75"/>
<path d="M693.93 695.44h0M658.07 670.2h0M680.5 692.17h0M695.95 679.59h0M723.72 674.97h0M685.02 693.47h0M701.55 710.72h0M697.55 701.79h0M661.44 690.35h0M682.81 649.22h0M671.38 699.24h0M691.9 662.84h0M699.32 701.1h0M661.37 675.64h0M711.6 701.2h0M716.59 670h0M682.15 700.88h0M673.72 675.65h0" stroke-width="1.1" opacity="0.95"/>
<path d="M680.01 698.08h0M671.11 655.08h0M713.28 665.25h0M697.93 687.26h0M685.57 651.88h0M701.6 683.38h0" stroke-width="1.59" opacity="1.0"/>
</g>
<ellipse cx="685" cy="685" rx="30" ry="28" fill="#f01818" opacity="0.16" filter="url(#speck)"/>
</g>
<g clip-path="url(#k26)">
<ellipse cx="770.4" cy="684" rx="15" ry="15" transform="rotate(0 770.4 684)" fill="#052a05" opacity="0.9" filter="url(#nblur)"/>
<g filter="url(#fblur)" stroke="#2bff2b" stroke-linecap="round" fill="none">
<path d="M776.22 687.08h0M771.62 687.88h0M775.12 683.34h0M773.54 684.4h0" stroke-width="1.95" opacity="0.75"/>
<path d="M778.53 678.11h0M778.62 689.99h0M770.13 684.28h0M771.37 684.99h0" stroke-width="3" opacity="0.95"/>
<path d="M756.69 682.02h0M777.58 673.12h0" stroke-width="4.35" opacity="1.0"/>
</g>
</g>
<g clip-path="url(#k27)">
<polygon points="825.2,668.2 846.7,660.1 876,661.7 880.9,694.3 863,723.6 825.2,723.6" fill="#8a0c0c" opacity="0.45" filter="url(#nblur2)"/>
<polygon points="825.2,668.2 846.7,660.1 876,661.7 880.9,694.3 863,723.6 825.2,723.6" fill="#f01818" opacity="0.34" filter="url(#speck)"/>
<ellipse cx="900" cy="670" rx="14" ry="30" transform="rotate(0 900 670)" fill="#120100" opacity="0.9" filter="url(#nblur)"/>
<g filter="url(#fblur)" stroke="#ff2222" stroke-linecap="round" fill="none">
<path d="M895.19 658.23h0" stroke-width="1.04" opacity="0.75"/>
<path d="M890.44 660.31h0M904.83 663.33h0M896.95 670.16h0M899.23 651.47h0M908.92 660.71h0" stroke-width="1.6" opacity="0.95"/>
<path d="M898.17 692.67h0M893.01 656.43h0M891.26 666.64h0M902.33 674.53h0" stroke-width="2.32" opacity="1.0"/>
</g>
</g>
<text x="187.6" y="744.9" textLength="67.15" lengthAdjust="spacingAndGlyphs" font-size="24" fill="#0bb04c" stroke="#0bb04c" stroke-width="0.34">MDC1</text>
<text x="288.12" y="744.9" textLength="46.53" lengthAdjust="spacingAndGlyphs" font-size="24" fill="#e8212a" stroke="#e8212a" stroke-width="0.34">RPA</text>
<text x="372.45" y="744.9" textLength="65.68" lengthAdjust="spacingAndGlyphs" font-size="24" fill="#0bb04c" stroke="#0bb04c" stroke-width="0.34">MDC1</text>
<text x="471.69" y="744.9" textLength="47.36" lengthAdjust="spacingAndGlyphs" font-size="24" fill="#e8212a" stroke="#e8212a" stroke-width="0.34">RPA</text>
<text x="556" y="744.9" textLength="67.15" lengthAdjust="spacingAndGlyphs" font-size="24" fill="#0bb04c" stroke="#0bb04c" stroke-width="0.34">MDC1</text>
<text x="656.1" y="744.9" textLength="47.15" lengthAdjust="spacingAndGlyphs" font-size="24" fill="#e8212a" stroke="#e8212a" stroke-width="0.34">RPA</text>
<text x="740.3" y="744.9" textLength="67.15" lengthAdjust="spacingAndGlyphs" font-size="24" fill="#0bb04c" stroke="#0bb04c" stroke-width="0.34">MDC1</text>
<text x="820.49" y="744.9" textLength="47.26" lengthAdjust="spacingAndGlyphs" font-size="24" fill="#e8212a" stroke="#e8212a" stroke-width="0.34">RPA</text>
<rect x="881.7" y="729.8" width="29.5" height="3.8" fill="#0000ff"/>
<text x="873.8" y="748.3" font-size="14.8" font-weight="bold" fill="#0000ff" textLength="44.6" lengthAdjust="spacingAndGlyphs">10 <tspan font-style="italic">µ</tspan>m</text>
</g>
<g id="pBmit">
<line x1="1163.4" y1="413" x2="1163.4" y2="699" stroke="#000" stroke-width="3" />
<line x1="1154.9" y1="697.7" x2="1515.3" y2="697.7" stroke="#000" stroke-width="3" />
<line x1="1154.9" y1="414.9" x2="1163.4" y2="414.9" stroke="#000" stroke-width="3" />
<text x="1095.49" y="426.9" font-size="31.6" stroke="#000" stroke-width="0.44">150</text>
<line x1="1154.9" y1="462" x2="1163.4" y2="462" stroke="#000" stroke-width="3" />
<text x="1095.65" y="474" font-size="31.6" stroke="#000" stroke-width="0.44">125</text>
<line x1="1154.9" y1="509.1" x2="1163.4" y2="509.1" stroke="#000" stroke-width="3" />
<text x="1095.49" y="521.1" font-size="31.6" stroke="#000" stroke-width="0.44">100</text>
<line x1="1154.9" y1="556.3" x2="1163.4" y2="556.3" stroke="#000" stroke-width="3" />
<text x="1113.19" y="568.3" font-size="31.6" stroke="#000" stroke-width="0.44">75</text>
<line x1="1154.9" y1="603.4" x2="1163.4" y2="603.4" stroke="#000" stroke-width="3" />
<text x="1113.03" y="615.4" font-size="31.6" stroke="#000" stroke-width="0.44">50</text>
<line x1="1154.9" y1="650.6" x2="1163.4" y2="650.6" stroke="#000" stroke-width="3" />
<text x="1113.19" y="662.6" font-size="31.6" stroke="#000" stroke-width="0.44">25</text>
<line x1="1154.9" y1="697.7" x2="1163.4" y2="697.7" stroke="#000" stroke-width="3" />
<text x="1130.57" y="709.7" font-size="31.6" stroke="#000" stroke-width="0.44">0</text>
<line x1="1200" y1="697.7" x2="1200" y2="706" stroke="#000" stroke-width="3" />
<line x1="1255.9" y1="697.7" x2="1255.9" y2="706" stroke="#000" stroke-width="3" />
<line x1="1311.6" y1="697.7" x2="1311.6" y2="706" stroke="#000" stroke-width="3" />
<line x1="1367.9" y1="697.7" x2="1367.9" y2="706" stroke="#000" stroke-width="3" />
<line x1="1423.3" y1="697.7" x2="1423.3" y2="706" stroke="#000" stroke-width="3" />
<line x1="1479.3" y1="697.7" x2="1479.3" y2="706" stroke="#000" stroke-width="3" />
<rect x="1183.45" y="672.9" width="33.7" height="8" fill="#00fdff" stroke="#000" stroke-width="2.6"/>
<rect x="1183.45" y="680.9" width="33.7" height="10.5" fill="#d783ff" stroke="#000" stroke-width="2.6"/>
<rect x="1183.45" y="691.4" width="33.7" height="6.3" fill="#ff9300" stroke="#000" stroke-width="2.6"/>
<line x1="1200.3" y1="687.1" x2="1200.3" y2="693.7" stroke="#000" stroke-width="2.6" />
<line x1="1190.3" y1="687.1" x2="1210.3" y2="687.1" stroke="#000" stroke-width="2.6" />
<line x1="1190.3" y1="693.7" x2="1210.3" y2="693.7" stroke="#000" stroke-width="2.6" />
<line x1="1200.3" y1="676.6" x2="1200.3" y2="686" stroke="#000" stroke-width="2.6" />
<line x1="1190.3" y1="676.6" x2="1210.3" y2="676.6" stroke="#000" stroke-width="2.6" />
<line x1="1190.3" y1="686" x2="1210.3" y2="686" stroke="#000" stroke-width="2.6" />
<line x1="1200.3" y1="670.3" x2="1200.3" y2="676" stroke="#000" stroke-width="2.6" />
<line x1="1190.3" y1="670.3" x2="1210.3" y2="670.3" stroke="#000" stroke-width="2.6" />
<line x1="1190.3" y1="676" x2="1210.3" y2="676" stroke="#000" stroke-width="2.6" />
<rect x="1239.35" y="660" width="33.7" height="11.4" fill="#00fdff" stroke="#000" stroke-width="2.6"/>
<rect x="1239.35" y="671.4" width="33.7" height="4.3" fill="#d783ff" stroke="#000" stroke-width="2.6"/>
<rect x="1239.35" y="675.7" width="33.7" height="22" fill="#ff9300" stroke="#000" stroke-width="2.6"/>
<line x1="1256.2" y1="667" x2="1256.2" y2="684.9" stroke="#000" stroke-width="2.6" />
<line x1="1246.2" y1="667" x2="1266.2" y2="667" stroke="#000" stroke-width="2.6" />
<line x1="1246.2" y1="684.9" x2="1266.2" y2="684.9" stroke="#000" stroke-width="2.6" />
<line x1="1256.2" y1="665.7" x2="1256.2" y2="675" stroke="#000" stroke-width="2.6" />
<line x1="1246.2" y1="665.7" x2="1266.2" y2="665.7" stroke="#000" stroke-width="2.6" />
<line x1="1246.2" y1="675" x2="1266.2" y2="675" stroke="#000" stroke-width="2.6" />
<line x1="1256.2" y1="655" x2="1256.2" y2="664.3" stroke="#000" stroke-width="2.6" />
<line x1="1246.2" y1="655" x2="1266.2" y2="655" stroke="#000" stroke-width="2.6" />
<line x1="1246.2" y1="664.3" x2="1266.2" y2="664.3" stroke="#000" stroke-width="2.6" />
<rect x="1295.05" y="604.9" width="33.7" height="8.5" fill="#00fdff" stroke="#000" stroke-width="2.6"/>
<rect x="1295.05" y="613.4" width="33.7" height="41.7" fill="#d783ff" stroke="#000" stroke-width="2.6"/>
<rect x="1295.05" y="655.1" width="33.7" height="42.6" fill="#ff9300" stroke="#000" stroke-width="2.6"/>
<line x1="1311.9" y1="643.7" x2="1311.9" y2="662.9" stroke="#000" stroke-width="2.6" />
<line x1="1301.9" y1="643.7" x2="1321.9" y2="643.7" stroke="#000" stroke-width="2.6" />
<line x1="1301.9" y1="662.9" x2="1321.9" y2="662.9" stroke="#000" stroke-width="2.6" />
<line x1="1311.9" y1="607.7" x2="1311.9" y2="620" stroke="#000" stroke-width="2.6" />
<line x1="1301.9" y1="607.7" x2="1321.9" y2="607.7" stroke="#000" stroke-width="2.6" />
<line x1="1301.9" y1="620" x2="1321.9" y2="620" stroke="#000" stroke-width="2.6" />
<line x1="1311.9" y1="602.9" x2="1311.9" y2="607" stroke="#000" stroke-width="2.6" />
<line x1="1301.9" y1="602.9" x2="1321.9" y2="602.9" stroke="#000" stroke-width="2.6" />
<line x1="1301.9" y1="607" x2="1321.9" y2="607" stroke="#000" stroke-width="2.6" />
<rect x="1351.35" y="510.9" width="33.7" height="14.8" fill="#00fdff" stroke="#000" stroke-width="2.6"/>
<rect x="1351.35" y="525.7" width="33.7" height="67.2" fill="#d783ff" stroke="#000" stroke-width="2.6"/>
<rect x="1351.35" y="592.9" width="33.7" height="104.8" fill="#ff9300" stroke="#000" stroke-width="2.6"/>
<line x1="1368.2" y1="583.4" x2="1368.2" y2="600" stroke="#000" stroke-width="2.6" />
<line x1="1358.2" y1="583.4" x2="1378.2" y2="583.4" stroke="#000" stroke-width="2.6" />
<line x1="1358.2" y1="600" x2="1378.2" y2="600" stroke="#000" stroke-width="2.6" />
<line x1="1368.2" y1="515.7" x2="1368.2" y2="540.9" stroke="#000" stroke-width="2.6" />
<line x1="1358.2" y1="515.7" x2="1378.2" y2="515.7" stroke="#000" stroke-width="2.6" />
<line x1="1358.2" y1="540.9" x2="1378.2" y2="540.9" stroke="#000" stroke-width="2.6" />
<line x1="1368.2" y1="504.3" x2="1368.2" y2="517" stroke="#000" stroke-width="2.6" />
<line x1="1358.2" y1="504.3" x2="1378.2" y2="504.3" stroke="#000" stroke-width="2.6" />
<line x1="1358.2" y1="517" x2="1378.2" y2="517" stroke="#000" stroke-width="2.6" />
<rect x="1406.75" y="613.4" width="33.7" height="6.6" fill="#00fdff" stroke="#000" stroke-width="2.6"/>
<rect x="1406.75" y="620" width="33.7" height="45.7" fill="#d783ff" stroke="#000" stroke-width="2.6"/>
<rect x="1406.75" y="665.7" width="33.7" height="32" fill="#ff9300" stroke="#000" stroke-width="2.6"/>
<line x1="1423.6" y1="658.6" x2="1423.6" y2="670" stroke="#000" stroke-width="2.6" />
<line x1="1413.6" y1="658.6" x2="1433.6" y2="658.6" stroke="#000" stroke-width="2.6" />
<line x1="1413.6" y1="670" x2="1433.6" y2="670" stroke="#000" stroke-width="2.6" />
<line x1="1423.6" y1="615.7" x2="1423.6" y2="618.6" stroke="#000" stroke-width="2.6" />
<line x1="1413.6" y1="615.7" x2="1433.6" y2="615.7" stroke="#000" stroke-width="2.6" />
<line x1="1413.6" y1="618.6" x2="1433.6" y2="618.6" stroke="#000" stroke-width="2.6" />
<line x1="1423.6" y1="607.7" x2="1423.6" y2="617" stroke="#000" stroke-width="2.6" />
<line x1="1413.6" y1="607.7" x2="1433.6" y2="607.7" stroke="#000" stroke-width="2.6" />
<line x1="1413.6" y1="617" x2="1433.6" y2="617" stroke="#000" stroke-width="2.6" />
<rect x="1462.75" y="591.4" width="33.7" height="52.9" fill="#d783ff" stroke="#000" stroke-width="2.6"/>
<rect x="1462.75" y="644.3" width="33.7" height="53.4" fill="#ff9300" stroke="#000" stroke-width="2.6"/>
<line x1="1479.6" y1="632.3" x2="1479.6" y2="654.3" stroke="#000" stroke-width="2.6" />
<line x1="1469.6" y1="632.3" x2="1489.6" y2="632.3" stroke="#000" stroke-width="2.6" />
<line x1="1469.6" y1="654.3" x2="1489.6" y2="654.3" stroke="#000" stroke-width="2.6" />
<line x1="1479.6" y1="578.6" x2="1479.6" y2="603.7" stroke="#000" stroke-width="2.6" />
<line x1="1469.6" y1="578.6" x2="1489.6" y2="578.6" stroke="#000" stroke-width="2.6" />
<line x1="1469.6" y1="603.7" x2="1489.6" y2="603.7" stroke="#000" stroke-width="2.6" />
<line x1="1154.9" y1="697.7" x2="1515.3" y2="697.7" stroke="#000" stroke-width="3" />
<text x="1172.77" y="610" textLength="99.05" lengthAdjust="spacingAndGlyphs" font-size="23.7" stroke="#000" stroke-width="0.33">p=0.4145</text>
<line x1="1186.3" y1="620.9" x2="1253.7" y2="620.9" stroke="#000" stroke-width="2.9" />
<text x="1287.07" y="467" textLength="99.09" lengthAdjust="spacingAndGlyphs" font-size="23.7" stroke="#000" stroke-width="0.33">p=0.0132</text>
<line x1="1300.6" y1="480" x2="1368.6" y2="480" stroke="#000" stroke-width="2.9" />
<text x="1399.85" y="546.6" textLength="100.07" lengthAdjust="spacingAndGlyphs" font-size="23.7" stroke="#000" stroke-width="0.33">p=0.2575</text>
<line x1="1418.6" y1="557.7" x2="1486.3" y2="557.7" stroke="#000" stroke-width="2.9" />
<rect x="1406.5" y="413.6" width="16" height="15.4" fill="#ff9300" stroke="#000" stroke-width="2"/>
<rect x="1406.5" y="454.3" width="16" height="15.3" fill="#d783ff" stroke="#000" stroke-width="2"/>
<rect x="1406.5" y="496.5" width="16" height="16" fill="#00fdff" stroke="#000" stroke-width="2"/>
<text x="1443.08" y="432.3" textLength="305.53" lengthAdjust="spacingAndGlyphs" font-size="31.6" stroke="#000" stroke-width="0.44">Lagging chromosomes</text>
<text x="1445.5" y="472.9" textLength="225.75" lengthAdjust="spacingAndGlyphs" font-size="31.6" stroke="#000" stroke-width="0.44">Anaphase bridge</text>
<text x="1443.1" y="515.7" textLength="233.16" lengthAdjust="spacingAndGlyphs" font-size="31.6" stroke="#000" stroke-width="0.44">Multipolar spindle</text>
<text transform="translate(1040.6,718.6) rotate(-90)" x="-2.38" y="0" textLength="270.6" lengthAdjust="spacingAndGlyphs" font-size="31.6" stroke="#000" stroke-width="0.44">Mitotic abnormalities</text>
<text transform="translate(1078.6,698.6) rotate(-90)" x="-1.78" y="0" textLength="230.79" lengthAdjust="spacingAndGlyphs" font-size="31.6" stroke="#000" stroke-width="0.44">(per 100 mitoses)</text>
<text x="1047" y="736.3" textLength="109.92" lengthAdjust="spacingAndGlyphs" font-size="31.6" stroke="#000" stroke-width="0.44">ART558</text>
<text x="1196.11" y="736.97" font-size="31.6" stroke="#000" stroke-width="0.44">-</text>
<text x="1245.66" y="739.39" font-size="31.6" stroke="#000" stroke-width="0.44">+</text>
<text x="1310.41" y="736.97" font-size="31.6" stroke="#000" stroke-width="0.44">-</text>
<text x="1352.76" y="739.39" font-size="31.6" stroke="#000" stroke-width="0.44">+</text>
<text x="1417.61" y="736.97" font-size="31.6" stroke="#000" stroke-width="0.44">-</text>
<text x="1466.46" y="739.39" font-size="31.6" stroke="#000" stroke-width="0.44">+</text>
<line x1="1194.9" y1="744.9" x2="1266.3" y2="744.9" stroke="#000" stroke-width="2.9" />
<line x1="1305" y1="744.9" x2="1376.6" y2="744.9" stroke="#000" stroke-width="2.9" />
<line x1="1414.9" y1="744.9" x2="1486.3" y2="744.9" stroke="#000" stroke-width="2.9" />
<text x="1201.26" y="775.7" textLength="45.01" lengthAdjust="spacingAndGlyphs" font-size="31.6" stroke="#000" stroke-width="0.44">WT</text>
<text x="1317.02" y="775.7" textLength="45.62" lengthAdjust="spacingAndGlyphs" font-size="31.6" stroke="#000" stroke-width="0.44">CC</text>
<text x="1416.9" y="775.7" textLength="45.74" lengthAdjust="spacingAndGlyphs" font-size="31.6" stroke="#000" stroke-width="0.44">Δ11</text>
</g>
<g id="pC1">
<text x="44.34" y="788.2" textLength="33.52" lengthAdjust="spacingAndGlyphs" font-size="49.8" font-weight="bold">C</text>
<line x1="172.7" y1="806.4" x2="172.7" y2="1092.7" stroke="#000" stroke-width="3" />
<line x1="164.1" y1="808.6" x2="172.7" y2="808.6" stroke="#000" stroke-width="3" />
<text x="109.49" y="820.6" font-size="31.6" stroke="#000" stroke-width="0.44">100</text>
<line x1="164.1" y1="865.1" x2="172.7" y2="865.1" stroke="#000" stroke-width="3" />
<text x="127.03" y="877.1" font-size="31.6" stroke="#000" stroke-width="0.44">80</text>
<line x1="164.1" y1="921.7" x2="172.7" y2="921.7" stroke="#000" stroke-width="3" />
<text x="127.03" y="933.7" font-size="31.6" stroke="#000" stroke-width="0.44">60</text>
<line x1="164.1" y1="978.3" x2="172.7" y2="978.3" stroke="#000" stroke-width="3" />
<text x="127.03" y="990.3" font-size="31.6" stroke="#000" stroke-width="0.44">40</text>
<line x1="164.1" y1="1034.9" x2="172.7" y2="1034.9" stroke="#000" stroke-width="3" />
<text x="127.03" y="1046.9" font-size="31.6" stroke="#000" stroke-width="0.44">20</text>
<line x1="164.1" y1="1091.4" x2="172.7" y2="1091.4" stroke="#000" stroke-width="3" />
<text x="144.57" y="1103.4" font-size="31.6" stroke="#000" stroke-width="0.44">0</text>
<rect x="188.9" y="924.9" width="33" height="166.5" fill="url(#hg)" stroke="#000" stroke-width="2.4"/>
<line x1="205.4" y1="1091.4" x2="205.4" y2="1100" stroke="#000" stroke-width="3" />
<rect x="239.4" y="940" width="33" height="151.4" fill="#00f900" stroke="#000" stroke-width="2.4"/>
<line x1="255.9" y1="1091.4" x2="255.9" y2="1100" stroke="#000" stroke-width="3" />
<rect x="290" y="1015.7" width="33" height="75.7" fill="url(#hg)" stroke="#000" stroke-width="2.4"/>
<line x1="306.5" y1="1091.4" x2="306.5" y2="1100" stroke="#000" stroke-width="3" />
<rect x="340.3" y="962.9" width="33" height="128.5" fill="#00f900" stroke="#000" stroke-width="2.4"/>
<line x1="356.8" y1="1091.4" x2="356.8" y2="1100" stroke="#000" stroke-width="3" />
<rect x="390.7" y="1047" width="33" height="44.4" fill="url(#hg)" stroke="#000" stroke-width="2.4"/>
<line x1="407.2" y1="1091.4" x2="407.2" y2="1100" stroke="#000" stroke-width="3" />
<rect x="440.9" y="999.4" width="33" height="92" fill="#00f900" stroke="#000" stroke-width="2.4"/>
<line x1="457.4" y1="1091.4" x2="457.4" y2="1100" stroke="#000" stroke-width="3" />
<rect x="490.8" y="959.1" width="33" height="132.3" fill="url(#hg)" stroke="#000" stroke-width="2.4"/>
<line x1="507.3" y1="1091.4" x2="507.3" y2="1100" stroke="#000" stroke-width="3" />
<rect x="541.3" y="991.4" width="33" height="100" fill="#00f900" stroke="#000" stroke-width="2.4"/>
<line x1="557.8" y1="1091.4" x2="557.8" y2="1100" stroke="#000" stroke-width="3" />
<rect x="591.7" y="1048" width="33" height="43.4" fill="url(#hg)" stroke="#000" stroke-width="2.4"/>
<line x1="608.2" y1="1091.4" x2="608.2" y2="1100" stroke="#000" stroke-width="3" />
<rect x="642.1" y="1034.3" width="33" height="57.1" fill="#00f900" stroke="#000" stroke-width="2.4"/>
<line x1="658.6" y1="1091.4" x2="658.6" y2="1100" stroke="#000" stroke-width="3" />
<rect x="692.3" y="1074.3" width="33" height="17.1" fill="url(#hg)" stroke="#000" stroke-width="2.4"/>
<line x1="708.8" y1="1091.4" x2="708.8" y2="1100" stroke="#000" stroke-width="3" />
<rect x="742.7" y="1057.7" width="33" height="33.7" fill="#00f900" stroke="#000" stroke-width="2.4"/>
<line x1="759.2" y1="1091.4" x2="759.2" y2="1100" stroke="#000" stroke-width="3" />
<line x1="164.1" y1="1091.4" x2="792.9" y2="1091.4" stroke="#000" stroke-width="3" />
<path d="M200.86 814.86h0M209.43 812h0M205.14 874.29h0M210 879.43h0M200.86 888h0M200.86 902h0M210 904.86h0M200 924.29h0M210 922.29h0M210 980.86h0M200.86 987.14h0M200.86 1001.43h0M210 1004.29h0M205.14 1029.14h0" stroke="#000" stroke-width="6" stroke-linecap="round" fill="none"/>
<line x1="205.4" y1="907" x2="205.4" y2="942" stroke="#000" stroke-width="2.5" />
<line x1="196.15" y1="907" x2="214.65" y2="907" stroke="#000" stroke-width="2.5" />
<line x1="196.15" y1="942" x2="214.65" y2="942" stroke="#000" stroke-width="2.5" />
<path d="M255.71 848.57h0M255.71 865.71h0M255.71 902h0M251.43 907.71h0M260 916.29h0M255.71 927.14h0M255.71 938.57h0M260 967.14h0M251.43 970h0M242.86 978.57h0M268.57 978.57h0M251.43 981.43h0M260 984.29h0M255.71 995.71h0" stroke="#941100" stroke-width="6" stroke-linecap="round" fill="none"/>
<line x1="255.9" y1="927" x2="255.9" y2="950.9" stroke="#941100" stroke-width="2.5" />
<line x1="246.65" y1="927" x2="265.15" y2="927" stroke="#941100" stroke-width="2.5" />
<line x1="246.65" y1="950.9" x2="265.15" y2="950.9" stroke="#941100" stroke-width="2.5" />
<path d="M306.29 941.43h0M302 964.29h0M310.57 964.29h0M306.29 974.86h0M302 987.14h0M314.29 995.71h0M310 998h0M306.29 1020.57h0M302 1042.86h0M310.57 1042.86h0M306.29 1051.43h0M302 1057.14h0M310.57 1062.86h0M310.57 1077.14h0M302 1082.86h0" stroke="#000" stroke-width="6" stroke-linecap="round" fill="none"/>
<line x1="306.5" y1="1003.7" x2="306.5" y2="1027" stroke="#000" stroke-width="2.5" />
<line x1="297.25" y1="1003.7" x2="315.75" y2="1003.7" stroke="#000" stroke-width="2.5" />
<line x1="297.25" y1="1027" x2="315.75" y2="1027" stroke="#000" stroke-width="2.5" />
<path d="M352.29 884.86h0M360.86 882.29h0M356.57 902h0M356.57 913.43h0M356.57 930.57h0M356.57 961.43h0M352.29 980.86h0M357.14 977.14h0M365.14 989.43h0M360.86 998h0M352.29 1001.43h0M356.57 1011.43h0M360.86 1018.57h0M352.29 1023.43h0" stroke="#941100" stroke-width="6" stroke-linecap="round" fill="none"/>
<line x1="356.8" y1="949.4" x2="356.8" y2="974.3" stroke="#941100" stroke-width="2.5" />
<line x1="347.55" y1="949.4" x2="366.05" y2="949.4" stroke="#941100" stroke-width="2.5" />
<line x1="347.55" y1="974.3" x2="366.05" y2="974.3" stroke="#941100" stroke-width="2.5" />
<path d="M407.14 936.29h0M407.14 972.86h0M411.43 992.86h0M402.86 998h0M407.14 1010h0M398.57 1026.57h0M407.14 1030h0M415.71 1028.57h0M394.29 1037.14h0M402.86 1038.57h0M411.43 1038.57h0M420 1037.14h0M398.57 1045.71h0M415.71 1045.71h0M402.86 1055.71h0M411.43 1055.71h0M394.29 1068.57h0M402.86 1065.71h0M411.43 1065.71h0M420 1068.57h0M398.57 1077.14h0M407.14 1075.71h0M415.71 1077.14h0M394.29 1082.86h0M420 1084.29h0M398.57 1090h0M407.14 1091.43h0M415.71 1088.57h0M402.86 1084.29h0M411.43 1082.86h0" stroke="#000" stroke-width="6" stroke-linecap="round" fill="none"/>
<line x1="407.2" y1="1040" x2="407.2" y2="1053.4" stroke="#000" stroke-width="2.5" />
<line x1="397.95" y1="1040" x2="416.45" y2="1040" stroke="#000" stroke-width="2.5" />
<line x1="397.95" y1="1053.4" x2="416.45" y2="1053.4" stroke="#000" stroke-width="2.5" />
<path d="M457.14 884.86h0M452.86 924.86h0M461.43 924.86h0M461.43 939.14h0M452.86 944.86h0M452.86 955.71h0M465.71 964.29h0M461.43 967.14h0M452.86 975.71h0M457.14 1002.86h0M444.29 1008.57h0M470 1008.57h0M452.86 1014.29h0M461.43 1017.14h0M448.57 1020.57h0M470 1017.14h0M457.14 1028.57h0M465.71 1030h0M444.29 1034.86h0M470 1032.86h0M452.86 1040h0M461.43 1041.43h0M448.57 1045.71h0M465.71 1049.14h0M457.14 1051.43h0" stroke="#941100" stroke-width="6" stroke-linecap="round" fill="none"/>
<line x1="457.4" y1="990" x2="457.4" y2="1005.7" stroke="#941100" stroke-width="2.5" />
<line x1="448.15" y1="990" x2="466.65" y2="990" stroke="#941100" stroke-width="2.5" />
<line x1="448.15" y1="1005.7" x2="466.65" y2="1005.7" stroke="#941100" stroke-width="2.5" />
<path d="M507.14 870.86h0M507.14 905.14h0M507.14 932.86h0M502.86 952h0M494.29 958.57h0M501.43 954.86h0M511.43 954.29h0M520 957.14h0M507.14 964.29h0M494.29 978.57h0M502.86 981.43h0M511.43 984.29h0M520 981.43h0M502.86 1001.43h0M511.43 998.57h0" stroke="#000" stroke-width="6" stroke-linecap="round" fill="none"/>
<line x1="507.3" y1="950" x2="507.3" y2="968" stroke="#000" stroke-width="2.5" />
<line x1="498.05" y1="950" x2="516.55" y2="950" stroke="#000" stroke-width="2.5" />
<line x1="498.05" y1="968" x2="516.55" y2="968" stroke="#000" stroke-width="2.5" />
<path d="M562 930.57h0M553.43 936.29h0M553.43 961.43h0M562 961.43h0M548.57 964.29h0M565.71 970h0M557.71 972.86h0M557.71 1010h0M565.71 1018.57h0M544.86 1020.57h0M557.71 1024.29h0M549.14 1027.14h0M565.71 1032.86h0M557.71 1034.86h0" stroke="#941100" stroke-width="6" stroke-linecap="round" fill="none"/>
<line x1="557.8" y1="980.9" x2="557.8" y2="1000" stroke="#941100" stroke-width="2.5" />
<line x1="548.55" y1="980.9" x2="567.05" y2="980.9" stroke="#941100" stroke-width="2.5" />
<line x1="548.55" y1="1000" x2="567.05" y2="1000" stroke="#941100" stroke-width="2.5" />
<path d="M608 989.43h0M612.29 1001.43h0M603.71 1006.29h0M608 1020.57h0M595.14 1034.86h0M620.86 1034.86h0M612.29 1037.71h0M603.71 1060h0M612.29 1065.71h0M595.14 1077.14h0M620.86 1074.29h0M601.43 1082.86h0M608 1085.71h0M614.29 1084.29h0M620.86 1082.86h0" stroke="#000" stroke-width="6" stroke-linecap="round" fill="none"/>
<line x1="608.2" y1="1038.6" x2="608.2" y2="1055.7" stroke="#000" stroke-width="2.5" />
<line x1="598.95" y1="1038.6" x2="617.45" y2="1038.6" stroke="#000" stroke-width="2.5" />
<line x1="598.95" y1="1055.7" x2="617.45" y2="1055.7" stroke="#000" stroke-width="2.5" />
<path d="M658.57 947.14h0M654.29 975.71h0M662.86 978.57h0M658.57 1015.14h0M652.86 1034.86h0M664.29 1037.14h0M671.43 1036.57h0M650 1065.71h0M658.57 1068.57h0M667.14 1065.71h0M662.86 1080h0M654.29 1085.71h0" stroke="#941100" stroke-width="6" stroke-linecap="round" fill="none"/>
<line x1="658.6" y1="1022.9" x2="658.6" y2="1044.3" stroke="#941100" stroke-width="2.5" />
<line x1="649.35" y1="1022.9" x2="667.85" y2="1022.9" stroke="#941100" stroke-width="2.5" />
<line x1="649.35" y1="1044.3" x2="667.85" y2="1044.3" stroke="#941100" stroke-width="2.5" />
<path d="M708.57 1034.86h0M695.71 1040.86h0M721.43 1043.43h0M704.29 1045.71h0M712.86 1049.14h0M697.14 1062.86h0M704.29 1062.86h0M712.86 1062.86h0M720 1062.86h0M700 1068.57h0M708.57 1067.14h0M717.14 1068.57h0M695.71 1074.29h0M704.29 1074.29h0M712.86 1074.29h0M721.43 1074.29h0M695.71 1082.86h0M704.29 1082.86h0M712.86 1082.86h0M721.43 1082.86h0M700 1091.43h0M708.57 1091.43h0M717.14 1091.43h0M700 1087.14h0M717.14 1087.14h0" stroke="#000" stroke-width="6" stroke-linecap="round" fill="none"/>
<line x1="708.8" y1="1070" x2="708.8" y2="1078.6" stroke="#000" stroke-width="2.5" />
<line x1="699.55" y1="1070" x2="718.05" y2="1070" stroke="#000" stroke-width="2.5" />
<line x1="699.55" y1="1078.6" x2="718.05" y2="1078.6" stroke="#000" stroke-width="2.5" />
<path d="M750.57 967.14h0M759.14 970h0M767.71 964.29h0M759.14 1009.43h0M759.14 1026.57h0M763.43 1034.86h0M750.57 1040.86h0M754.86 1048.57h0M763.43 1057.14h0M747.14 1074.29h0M754.29 1071.43h0M762.86 1070h0M771.43 1074.29h0M750 1080h0M758.57 1078.57h0M767.14 1080h0M745.71 1085.71h0M754.29 1085.71h0M762.86 1085.71h0M771.43 1082.86h0M754.29 1091.43h0M762.86 1088.57h0M758.57 1064.29h0M751.43 1062.86h0M767.14 1065.71h0" stroke="#941100" stroke-width="6" stroke-linecap="round" fill="none"/>
<line x1="759.2" y1="1050.6" x2="759.2" y2="1064.9" stroke="#941100" stroke-width="2.5" />
<line x1="749.95" y1="1050.6" x2="768.45" y2="1050.6" stroke="#941100" stroke-width="2.5" />
<line x1="749.95" y1="1064.9" x2="768.45" y2="1064.9" stroke="#941100" stroke-width="2.5" />
<line x1="482.8" y1="810" x2="482.8" y2="1093.5" stroke="#0433ff" stroke-width="3" stroke-dasharray="6.5 7.5" stroke-linecap="round"/>
<text x="181.36" y="787" textLength="99.56" lengthAdjust="spacingAndGlyphs" font-size="23.7" stroke="#000" stroke-width="0.33">p=0.4743</text>
<line x1="202.9" y1="796.3" x2="246.3" y2="796.3" stroke="#000" stroke-width="2.9" />
<text x="274.15" y="837" textLength="99.91" lengthAdjust="spacingAndGlyphs" font-size="23.7" stroke="#000" stroke-width="0.33">p=0.0042</text>
<line x1="300.6" y1="848.6" x2="344.3" y2="848.6" stroke="#000" stroke-width="2.9" />
<text x="377.08" y="855.7" textLength="98.25" lengthAdjust="spacingAndGlyphs" font-size="23.7" stroke="#000" stroke-width="0.33">p&lt;0.0001</text>
<line x1="405.7" y1="865" x2="449.4" y2="865" stroke="#000" stroke-width="2.9" />
<text x="484.17" y="837" textLength="98.93" lengthAdjust="spacingAndGlyphs" font-size="23.7" stroke="#000" stroke-width="0.33">p=0.0200</text>
<line x1="507" y1="848.6" x2="550.6" y2="848.6" stroke="#000" stroke-width="2.9" />
<text x="579.36" y="909" textLength="99.25" lengthAdjust="spacingAndGlyphs" font-size="23.7" stroke="#000" stroke-width="0.33">p=0.3263</text>
<line x1="612.3" y1="922.3" x2="655.7" y2="922.3" stroke="#000" stroke-width="2.9" />
<text x="687.06" y="909" textLength="99.56" lengthAdjust="spacingAndGlyphs" font-size="23.7" stroke="#000" stroke-width="0.33">p=0.0268</text>
<line x1="715.7" y1="922.3" x2="759.4" y2="922.3" stroke="#000" stroke-width="2.9" />
<text transform="translate(36.8,1024.3) rotate(-90)" x="-2.45" y="0" textLength="143.13" lengthAdjust="spacingAndGlyphs" font-size="31.6" stroke="#000" stroke-width="0.44">MDC1 foci</text>
<text transform="translate(75.9,1038.6) rotate(-90)" x="-1.77" y="0" textLength="172.17" lengthAdjust="spacingAndGlyphs" font-size="31.6" stroke="#000" stroke-width="0.44">(per nucleus)</text>
<text x="67" y="1133.7" textLength="109.11" lengthAdjust="spacingAndGlyphs" font-size="31.6" stroke="#000" stroke-width="0.44">ART558</text>
<text x="200.41" y="1134.07" font-size="31.6" stroke="#000" stroke-width="0.44">-</text>
<text x="247.06" y="1136.59" font-size="31.6" stroke="#000" stroke-width="0.44">+</text>
<text x="304.71" y="1134.07" font-size="31.6" stroke="#000" stroke-width="0.44">-</text>
<text x="351.36" y="1136.59" font-size="31.6" stroke="#000" stroke-width="0.44">+</text>
<text x="406.11" y="1134.07" font-size="31.6" stroke="#000" stroke-width="0.44">-</text>
<text x="448.46" y="1136.59" font-size="31.6" stroke="#000" stroke-width="0.44">+</text>
<text x="504.71" y="1134.07" font-size="31.6" stroke="#000" stroke-width="0.44">-</text>
<text x="552.76" y="1136.59" font-size="31.6" stroke="#000" stroke-width="0.44">+</text>
<text x="607.01" y="1134.07" font-size="31.6" stroke="#000" stroke-width="0.44">-</text>
<text x="649.36" y="1136.59" font-size="31.6" stroke="#000" stroke-width="0.44">+</text>
<text x="703.31" y="1134.07" font-size="31.6" stroke="#000" stroke-width="0.44">-</text>
<text x="750.16" y="1136.59" font-size="31.6" stroke="#000" stroke-width="0.44">+</text>
<line x1="199" y1="1142.3" x2="270" y2="1142.3" stroke="#000" stroke-width="2.9" />
<line x1="299.4" y1="1142.3" x2="370.6" y2="1142.3" stroke="#000" stroke-width="2.9" />
<line x1="400.9" y1="1142.3" x2="472" y2="1142.3" stroke="#000" stroke-width="2.9" />
<line x1="502.3" y1="1142.3" x2="573.4" y2="1142.3" stroke="#000" stroke-width="2.9" />
<line x1="602.9" y1="1142.3" x2="673.7" y2="1142.3" stroke="#000" stroke-width="2.9" />
<line x1="704.3" y1="1142.3" x2="775.7" y2="1142.3" stroke="#000" stroke-width="2.9" />
<text x="218.71" y="1177" textLength="22.44" lengthAdjust="spacingAndGlyphs" font-size="31.6" stroke="#000" stroke-width="0.44">P</text>
<text x="325.27" y="1177" textLength="28.47" lengthAdjust="spacingAndGlyphs" font-size="31.6" stroke="#000" stroke-width="0.44">M</text>
<text x="430.29" y="1177" textLength="23.55" lengthAdjust="spacingAndGlyphs" font-size="31.6" stroke="#000" stroke-width="0.44">D</text>
<text x="531.74" y="1177" textLength="21.32" lengthAdjust="spacingAndGlyphs" font-size="31.6" stroke="#000" stroke-width="0.44">P</text>
<text x="629.17" y="1177" textLength="29.47" lengthAdjust="spacingAndGlyphs" font-size="31.6" stroke="#000" stroke-width="0.44">M</text>
<text x="726.31" y="1177" textLength="24.28" lengthAdjust="spacingAndGlyphs" font-size="31.6" stroke="#000" stroke-width="0.44">D</text>
<line x1="212" y1="1192.3" x2="468" y2="1192.3" stroke="#000" stroke-width="6.3" stroke-linecap="round"/>
<line x1="513.4" y1="1192.3" x2="769.4" y2="1192.3" stroke="#000" stroke-width="6.3" stroke-linecap="round"/>
<text x="321.35" y="1228" textLength="44.88" lengthAdjust="spacingAndGlyphs" font-size="31.6" stroke="#000" stroke-width="0.44">CC</text>
<text x="619.18" y="1228" textLength="46.37" lengthAdjust="spacingAndGlyphs" font-size="31.6" stroke="#000" stroke-width="0.44">Δ11</text>
</g>
<g id="pC2">
<line x1="1002.2" y1="808.6" x2="1002.2" y2="1092.8" stroke="#000" stroke-width="3" />
<line x1="993.6" y1="852" x2="1002.2" y2="852" stroke="#000" stroke-width="3" />
<text x="956.63" y="864" font-size="31.6" stroke="#000" stroke-width="0.44">50</text>
<line x1="993.6" y1="900" x2="1002.2" y2="900" stroke="#000" stroke-width="3" />
<text x="956.63" y="912" font-size="31.6" stroke="#000" stroke-width="0.44">40</text>
<line x1="993.6" y1="947.7" x2="1002.2" y2="947.7" stroke="#000" stroke-width="3" />
<text x="956.63" y="959.7" font-size="31.6" stroke="#000" stroke-width="0.44">30</text>
<line x1="993.6" y1="995.7" x2="1002.2" y2="995.7" stroke="#000" stroke-width="3" />
<text x="956.63" y="1007.7" font-size="31.6" stroke="#000" stroke-width="0.44">20</text>
<line x1="993.6" y1="1043.4" x2="1002.2" y2="1043.4" stroke="#000" stroke-width="3" />
<text x="956.63" y="1055.4" font-size="31.6" stroke="#000" stroke-width="0.44">10</text>
<line x1="993.6" y1="1091.5" x2="1002.2" y2="1091.5" stroke="#000" stroke-width="3" />
<text x="974.17" y="1103.5" font-size="31.6" stroke="#000" stroke-width="0.44">0</text>
<rect x="1018.5" y="1048" width="33" height="43.5" fill="url(#hr)" stroke="#000" stroke-width="2.4"/>
<line x1="1035" y1="1091.5" x2="1035" y2="1100.1" stroke="#000" stroke-width="3" />
<rect x="1068.6" y="976.3" width="33" height="115.2" fill="#ff2600" stroke="#000" stroke-width="2.4"/>
<line x1="1085.1" y1="1091.5" x2="1085.1" y2="1100.1" stroke="#000" stroke-width="3" />
<rect x="1119.2" y="1080.9" width="33" height="10.6" fill="url(#hr)" stroke="#000" stroke-width="2.4"/>
<line x1="1135.7" y1="1091.5" x2="1135.7" y2="1100.1" stroke="#000" stroke-width="3" />
<rect x="1169.5" y="1030.9" width="33" height="60.6" fill="#ff2600" stroke="#000" stroke-width="2.4"/>
<line x1="1186" y1="1091.5" x2="1186" y2="1100.1" stroke="#000" stroke-width="3" />
<rect x="1219.9" y="1079" width="33" height="12.5" fill="url(#hr)" stroke="#000" stroke-width="2.4"/>
<line x1="1236.4" y1="1091.5" x2="1236.4" y2="1100.1" stroke="#000" stroke-width="3" />
<rect x="1270.1" y="1037" width="33" height="54.5" fill="#ff2600" stroke="#000" stroke-width="2.4"/>
<line x1="1286.6" y1="1091.5" x2="1286.6" y2="1100.1" stroke="#000" stroke-width="3" />
<rect x="1320.4" y="1073.4" width="33" height="18.1" fill="url(#hr)" stroke="#000" stroke-width="2.4"/>
<line x1="1336.9" y1="1091.5" x2="1336.9" y2="1100.1" stroke="#000" stroke-width="3" />
<rect x="1370.9" y="1077" width="33" height="14.5" fill="#ff2600" stroke="#000" stroke-width="2.4"/>
<line x1="1387.4" y1="1091.5" x2="1387.4" y2="1100.1" stroke="#000" stroke-width="3" />
<rect x="1420.6" y="1089.4" width="33" height="2.1" fill="url(#hr)" stroke="#000" stroke-width="2.4"/>
<line x1="1437.1" y1="1091.5" x2="1437.1" y2="1100.1" stroke="#000" stroke-width="3" />
<rect x="1471.2" y="1080.9" width="33" height="10.6" fill="#ff2600" stroke="#000" stroke-width="2.4"/>
<line x1="1487.7" y1="1091.5" x2="1487.7" y2="1100.1" stroke="#000" stroke-width="3" />
<rect x="1521.8" y="1084.3" width="33" height="7.2" fill="url(#hr)" stroke="#000" stroke-width="2.4"/>
<line x1="1538.3" y1="1091.5" x2="1538.3" y2="1100.1" stroke="#000" stroke-width="3" />
<rect x="1572.1" y="1088.6" width="33" height="2.9" fill="#ff2600" stroke="#000" stroke-width="2.4"/>
<line x1="1588.6" y1="1091.5" x2="1588.6" y2="1100.1" stroke="#000" stroke-width="3" />
<line x1="993.6" y1="1091.5" x2="1621.4" y2="1091.5" stroke="#000" stroke-width="3" />
<path d="M1034.86 972h0M1039.14 1005.71h0M1030.57 1010h0M1030.57 1024.29h0M1039.14 1024.29h0M1034.86 1048.57h0M1026.29 1057.14h0M1043.43 1054.29h0M1030.57 1062.86h0M1039.14 1062.86h0M1026.29 1077.14h0M1034.86 1071.43h0M1043.43 1077.14h0M1030.57 1085.71h0M1039.14 1080h0" stroke="#000" stroke-width="6" stroke-linecap="round" fill="none"/>
<line x1="1035" y1="1038.6" x2="1035" y2="1055.7" stroke="#000" stroke-width="2.5" />
<line x1="1025.75" y1="1038.6" x2="1044.25" y2="1038.6" stroke="#000" stroke-width="2.5" />
<line x1="1025.75" y1="1055.7" x2="1044.25" y2="1055.7" stroke="#000" stroke-width="2.5" />
<path d="M1085.14 885.71h0M1085.14 900.57h0M1085.14 933.71h0M1085.14 947.71h0M1085.14 977.14h0M1085.14 1005.71h0M1076.57 1019.43h0M1093.71 1019.43h0M1085.14 1024.29h0M1085.14 1033.71h0M1085.14 1048.57h0M1085.14 1086.57h0" stroke="#941100" stroke-width="6" stroke-linecap="round" fill="none"/>
<line x1="1085.1" y1="956.3" x2="1085.1" y2="994.3" stroke="#941100" stroke-width="2.5" />
<line x1="1075.85" y1="956.3" x2="1094.35" y2="956.3" stroke="#941100" stroke-width="2.5" />
<line x1="1075.85" y1="994.3" x2="1094.35" y2="994.3" stroke="#941100" stroke-width="2.5" />
<path d="M1135.71 1015.14h0M1135.71 1062.86h0M1135.71 1071.43h0M1122.86 1087.14h0M1128.57 1082.86h0M1135.71 1081.43h0M1142.86 1082.86h0M1148.57 1087.14h0M1125.71 1091.43h0M1135.71 1092.86h0M1145.71 1091.43h0M1131.43 1088h0M1140 1088h0" stroke="#000" stroke-width="6" stroke-linecap="round" fill="none"/>
<line x1="1135.7" y1="1075.7" x2="1135.7" y2="1084" stroke="#000" stroke-width="2.5" />
<line x1="1126.45" y1="1075.7" x2="1144.95" y2="1075.7" stroke="#000" stroke-width="2.5" />
<line x1="1126.45" y1="1084" x2="1144.95" y2="1084" stroke="#000" stroke-width="2.5" />
<path d="M1185.71 947.71h0M1185.71 962.29h0M1185.71 972h0M1185.71 991.43h0M1185.71 1020h0M1181.43 1029.43h0M1190 1024.29h0M1194.29 1043.43h0M1177.14 1048.57h0M1185.71 1048.57h0M1177.14 1062.86h0M1194.29 1062.86h0M1185.71 1067.14h0M1185.71 1077.14h0M1185.71 1090.86h0" stroke="#941100" stroke-width="6" stroke-linecap="round" fill="none"/>
<line x1="1186" y1="1018.6" x2="1186" y2="1041.4" stroke="#941100" stroke-width="2.5" />
<line x1="1176.75" y1="1018.6" x2="1195.25" y2="1018.6" stroke="#941100" stroke-width="2.5" />
<line x1="1176.75" y1="1041.4" x2="1195.25" y2="1041.4" stroke="#941100" stroke-width="2.5" />
<path d="M1236.29 1024.29h0M1236.29 1039.14h0M1244.86 1057.71h0M1223.43 1062.86h0M1236.29 1062.86h0M1227.71 1067.14h0M1244.86 1067.14h0M1232 1072h0M1240.57 1072h0M1225.71 1077.14h0M1232.86 1077.14h0M1240 1077.14h0M1247.14 1077.14h0M1222.86 1081.43h0M1229.14 1081.43h0M1236.29 1081.43h0M1243.43 1081.43h0M1250 1081.43h0M1225.71 1086.29h0M1232.86 1086.29h0M1240 1086.29h0M1247.14 1086.29h0M1222.86 1090.86h0M1229.14 1090.86h0M1236.29 1092h0M1243.43 1090.86h0M1250 1090.86h0" stroke="#000" stroke-width="6" stroke-linecap="round" fill="none"/>
<line x1="1236.4" y1="1076" x2="1236.4" y2="1081" stroke="#000" stroke-width="2.5" />
<line x1="1227.15" y1="1076" x2="1245.65" y2="1076" stroke="#000" stroke-width="2.5" />
<line x1="1227.15" y1="1081" x2="1245.65" y2="1081" stroke="#000" stroke-width="2.5" />
<path d="M1286.57 828h0M1286.57 904.86h0M1286.57 995.71h0M1290.86 1000.57h0M1282.29 1005.71h0M1282.29 1019.43h0M1290.86 1019.43h0M1286.57 1038.57h0M1278 1042.86h0M1295.14 1042.86h0M1273.71 1052.86h0M1282.29 1052.86h0M1290.86 1052.86h0M1299.43 1052.86h0M1278 1057.71h0M1286.57 1057.71h0M1295.14 1057.71h0M1273.71 1062.86h0M1282.29 1062.86h0M1290.86 1062.86h0M1299.43 1062.86h0M1278 1071.43h0M1286.57 1071.43h0M1295.14 1071.43h0M1278 1077.14h0M1286.57 1077.14h0M1295.14 1077.14h0M1286.57 1086.57h0M1282.29 1047.14h0M1290.86 1047.14h0" stroke="#941100" stroke-width="6" stroke-linecap="round" fill="none"/>
<line x1="1286.6" y1="1026" x2="1286.6" y2="1045.7" stroke="#941100" stroke-width="2.5" />
<line x1="1277.35" y1="1026" x2="1295.85" y2="1026" stroke="#941100" stroke-width="2.5" />
<line x1="1277.35" y1="1045.7" x2="1295.85" y2="1045.7" stroke="#941100" stroke-width="2.5" />
<path d="M1336.57 1019.43h0M1332.29 1048.57h0M1340.86 1048.57h0M1336.57 1062.86h0M1332.29 1071.43h0M1340.86 1071.43h0M1328 1080h0M1336.57 1077.14h0M1345.14 1078.57h0M1328 1091.43h0M1336.57 1092.86h0M1345.14 1091.43h0M1349.43 1091.43h0M1332.29 1084.29h0M1340.86 1084.29h0" stroke="#000" stroke-width="6" stroke-linecap="round" fill="none"/>
<line x1="1336.9" y1="1066.6" x2="1336.9" y2="1080" stroke="#000" stroke-width="2.5" />
<line x1="1327.65" y1="1066.6" x2="1346.15" y2="1066.6" stroke="#000" stroke-width="2.5" />
<line x1="1327.65" y1="1080" x2="1346.15" y2="1080" stroke="#000" stroke-width="2.5" />
<path d="M1387.14 986.29h0M1400 1067.14h0M1374.29 1072h0M1391.43 1072h0M1395.71 1077.14h0M1378.57 1080h0M1374.29 1087.14h0M1382.86 1082.86h0M1391.43 1082.86h0M1400 1087.14h0M1378.57 1090.86h0M1387.14 1091.43h0M1395.71 1090.86h0M1387.14 1087.14h0" stroke="#941100" stroke-width="6" stroke-linecap="round" fill="none"/>
<line x1="1387.4" y1="1069" x2="1387.4" y2="1083" stroke="#941100" stroke-width="2.5" />
<line x1="1378.15" y1="1069" x2="1396.65" y2="1069" stroke="#941100" stroke-width="2.5" />
<line x1="1378.15" y1="1083" x2="1396.65" y2="1083" stroke="#941100" stroke-width="2.5" />
<path d="M1437.14 1062.86h0M1424.29 1090.86h0M1429.43 1090.86h0M1434.57 1090.86h0M1439.71 1090.86h0M1444.86 1090.86h0M1450 1090.86h0" stroke="#000" stroke-width="6" stroke-linecap="round" fill="none"/>
<line x1="1437.1" y1="1087" x2="1437.1" y2="1091" stroke="#000" stroke-width="2.5" />
<line x1="1427.85" y1="1087" x2="1446.35" y2="1087" stroke="#000" stroke-width="2.5" />
<line x1="1427.85" y1="1091" x2="1446.35" y2="1091" stroke="#000" stroke-width="2.5" />
<path d="M1487.71 1033.71h0M1487.71 1048.57h0M1487.71 1067.14h0M1487.71 1077.14h0M1475.71 1086.29h0M1482 1086.29h0M1487.71 1086.29h0M1493.43 1086.29h0M1500 1086.29h0M1478.57 1090.86h0M1484.29 1090.86h0M1491.43 1090.86h0M1497.14 1090.86h0" stroke="#941100" stroke-width="6" stroke-linecap="round" fill="none"/>
<line x1="1487.7" y1="1075.7" x2="1487.7" y2="1085.7" stroke="#941100" stroke-width="2.5" />
<line x1="1478.45" y1="1075.7" x2="1496.95" y2="1075.7" stroke="#941100" stroke-width="2.5" />
<line x1="1478.45" y1="1085.7" x2="1496.95" y2="1085.7" stroke="#941100" stroke-width="2.5" />
<path d="M1529.43 1039.14h0M1538 1043.71h0M1546.57 1043.71h0M1524.29 1077.14h0M1551.43 1077.14h0M1532.86 1081.43h0M1542.86 1081.43h0M1524.29 1087.14h0M1531.43 1087.14h0M1538 1087.14h0M1544.29 1087.14h0M1551.43 1087.14h0M1527.14 1091.43h0M1534.29 1091.43h0M1541.43 1091.43h0M1548.57 1091.43h0" stroke="#000" stroke-width="6" stroke-linecap="round" fill="none"/>
<line x1="1538.3" y1="1080.9" x2="1538.3" y2="1087" stroke="#000" stroke-width="2.5" />
<line x1="1529.05" y1="1080.9" x2="1547.55" y2="1080.9" stroke="#000" stroke-width="2.5" />
<line x1="1529.05" y1="1087" x2="1547.55" y2="1087" stroke="#000" stroke-width="2.5" />
<path d="M1580 1077.14h0M1588.57 1077.14h0M1597.14 1077.14h0M1584.29 1081.43h0M1592.86 1081.43h0M1575.71 1087.14h0M1582 1087.14h0M1588.57 1087.14h0M1595.14 1087.14h0M1601.43 1087.14h0M1578.57 1090.86h0M1585.14 1090.86h0M1591.71 1090.86h0M1598.57 1090.86h0" stroke="#941100" stroke-width="6" stroke-linecap="round" fill="none"/>
<line x1="1588.6" y1="1086.5" x2="1588.6" y2="1090" stroke="#941100" stroke-width="2.5" />
<line x1="1579.35" y1="1086.5" x2="1597.85" y2="1086.5" stroke="#941100" stroke-width="2.5" />
<line x1="1579.35" y1="1090" x2="1597.85" y2="1090" stroke="#941100" stroke-width="2.5" />
<line x1="1312.2" y1="810" x2="1312.2" y2="1093.5" stroke="#0433ff" stroke-width="3" stroke-dasharray="6.5 7.5" stroke-linecap="round"/>
<text x="1009.06" y="845.7" textLength="99.56" lengthAdjust="spacingAndGlyphs" font-size="23.7" stroke="#000" stroke-width="0.33">p=0.0018</text>
<line x1="1032" y1="854.9" x2="1076.3" y2="854.9" stroke="#000" stroke-width="2.9" />
<text x="1100.77" y="882.3" textLength="99.15" lengthAdjust="spacingAndGlyphs" font-size="23.7" stroke="#000" stroke-width="0.33">p=0.0003</text>
<line x1="1130" y1="892" x2="1173.7" y2="892" stroke="#000" stroke-width="2.9" />
<text x="1208.48" y="882.3" textLength="98.25" lengthAdjust="spacingAndGlyphs" font-size="23.7" stroke="#000" stroke-width="0.33">p&lt;0.0001</text>
<line x1="1235" y1="893.4" x2="1279" y2="893.4" stroke="#000" stroke-width="2.9" />
<text x="1313.46" y="962.3" textLength="99.65" lengthAdjust="spacingAndGlyphs" font-size="23.7" stroke="#000" stroke-width="0.33">p=0.6870</text>
<line x1="1336.6" y1="973.4" x2="1380" y2="973.4" stroke="#000" stroke-width="2.9" />
<text x="1407.47" y="980" textLength="99.03" lengthAdjust="spacingAndGlyphs" font-size="23.7" stroke="#000" stroke-width="0.33">p=0.0570</text>
<line x1="1437.7" y1="989" x2="1481.4" y2="989" stroke="#000" stroke-width="2.9" />
<text x="1514.16" y="980" textLength="99.79" lengthAdjust="spacingAndGlyphs" font-size="23.7" stroke="#000" stroke-width="0.33">p=0.1659</text>
<line x1="1541.4" y1="989" x2="1585" y2="989" stroke="#000" stroke-width="2.9" />
<text transform="translate(883,1008.6) rotate(-90)" x="-2.42" y="0" textLength="113.61" lengthAdjust="spacingAndGlyphs" font-size="31.6" stroke="#000" stroke-width="0.44">RPA foci</text>
<text transform="translate(922.2,1038.6) rotate(-90)" x="-1.77" y="0" textLength="172.17" lengthAdjust="spacingAndGlyphs" font-size="31.6" stroke="#000" stroke-width="0.44">(per nucleus)</text>
<text x="897" y="1134.3" textLength="109.21" lengthAdjust="spacingAndGlyphs" font-size="31.6" stroke="#000" stroke-width="0.44">ART558</text>
<text x="1029.61" y="1134.67" font-size="31.6" stroke="#000" stroke-width="0.44">-</text>
<text x="1076.46" y="1137.19" font-size="31.6" stroke="#000" stroke-width="0.44">+</text>
<text x="1133.71" y="1134.67" font-size="31.6" stroke="#000" stroke-width="0.44">-</text>
<text x="1181.36" y="1137.19" font-size="31.6" stroke="#000" stroke-width="0.44">+</text>
<text x="1235.61" y="1134.67" font-size="31.6" stroke="#000" stroke-width="0.44">-</text>
<text x="1277.76" y="1137.19" font-size="31.6" stroke="#000" stroke-width="0.44">+</text>
<text x="1334.11" y="1134.67" font-size="31.6" stroke="#000" stroke-width="0.44">-</text>
<text x="1381.36" y="1137.19" font-size="31.6" stroke="#000" stroke-width="0.44">+</text>
<text x="1436.71" y="1134.67" font-size="31.6" stroke="#000" stroke-width="0.44">-</text>
<text x="1477.76" y="1137.19" font-size="31.6" stroke="#000" stroke-width="0.44">+</text>
<text x="1532.71" y="1134.67" font-size="31.6" stroke="#000" stroke-width="0.44">-</text>
<text x="1579.76" y="1137.19" font-size="31.6" stroke="#000" stroke-width="0.44">+</text>
<line x1="1028" y1="1142.9" x2="1099.4" y2="1142.9" stroke="#000" stroke-width="2.9" />
<line x1="1129" y1="1142.9" x2="1200.6" y2="1142.9" stroke="#000" stroke-width="2.9" />
<line x1="1230.6" y1="1142.9" x2="1301.4" y2="1142.9" stroke="#000" stroke-width="2.9" />
<line x1="1331.4" y1="1142.9" x2="1402.9" y2="1142.9" stroke="#000" stroke-width="2.9" />
<line x1="1432.3" y1="1142.9" x2="1503.4" y2="1142.9" stroke="#000" stroke-width="2.9" />
<line x1="1533.4" y1="1142.9" x2="1604.9" y2="1142.9" stroke="#000" stroke-width="2.9" />
<text x="1047.91" y="1177" textLength="22.44" lengthAdjust="spacingAndGlyphs" font-size="31.6" stroke="#000" stroke-width="0.44">P</text>
<text x="1154.18" y="1177" textLength="29.34" lengthAdjust="spacingAndGlyphs" font-size="31.6" stroke="#000" stroke-width="0.44">M</text>
<text x="1259.39" y="1177" textLength="23.55" lengthAdjust="spacingAndGlyphs" font-size="31.6" stroke="#000" stroke-width="0.44">D</text>
<text x="1360.78" y="1177" textLength="21.82" lengthAdjust="spacingAndGlyphs" font-size="31.6" stroke="#000" stroke-width="0.44">P</text>
<text x="1458.59" y="1177" textLength="29.22" lengthAdjust="spacingAndGlyphs" font-size="31.6" stroke="#000" stroke-width="0.44">M</text>
<text x="1555.99" y="1177" textLength="23.55" lengthAdjust="spacingAndGlyphs" font-size="31.6" stroke="#000" stroke-width="0.44">D</text>
<line x1="1041" y1="1192.3" x2="1297.4" y2="1192.3" stroke="#000" stroke-width="6.3" stroke-linecap="round"/>
<line x1="1342.9" y1="1192.3" x2="1598.9" y2="1192.3" stroke="#000" stroke-width="6.3" stroke-linecap="round"/>
<text x="1150.75" y="1227" textLength="44.77" lengthAdjust="spacingAndGlyphs" font-size="31.6" stroke="#000" stroke-width="0.44">CC</text>
<text x="1448.18" y="1227" textLength="46.79" lengthAdjust="spacingAndGlyphs" font-size="31.6" stroke="#000" stroke-width="0.44">Δ11</text>
</g>
<g id="pD">
<text x="17.57" y="1276.5" textLength="34.76" lengthAdjust="spacingAndGlyphs" font-size="49.5" font-weight="bold">D</text>
<line x1="164.7" y1="1317.6" x2="164.7" y2="1600.8" stroke="#000" stroke-width="3" />
<line x1="155.8" y1="1599.5" x2="362.7" y2="1599.5" stroke="#000" stroke-width="3" />
<line x1="155.8" y1="1343.4" x2="164.7" y2="1343.4" stroke="#000" stroke-width="3" />
<text x="95.29" y="1355.5" font-size="31.6" stroke="#000" stroke-width="0.44">100</text>
<line x1="155.8" y1="1394.1" x2="164.7" y2="1394.1" stroke="#000" stroke-width="3" />
<text x="112.83" y="1406.2" font-size="31.6" stroke="#000" stroke-width="0.44">80</text>
<line x1="155.8" y1="1445.8" x2="164.7" y2="1445.8" stroke="#000" stroke-width="3" />
<text x="112.83" y="1457.9" font-size="31.6" stroke="#000" stroke-width="0.44">60</text>
<line x1="155.8" y1="1497.1" x2="164.7" y2="1497.1" stroke="#000" stroke-width="3" />
<text x="112.83" y="1509.2" font-size="31.6" stroke="#000" stroke-width="0.44">40</text>
<line x1="155.8" y1="1548.2" x2="164.7" y2="1548.2" stroke="#000" stroke-width="3" />
<text x="112.83" y="1560.3" font-size="31.6" stroke="#000" stroke-width="0.44">20</text>
<line x1="155.8" y1="1599.5" x2="164.7" y2="1599.5" stroke="#000" stroke-width="3" />
<text x="130.37" y="1611.6" font-size="31.6" stroke="#000" stroke-width="0.44">0</text>
<line x1="202.8" y1="1599.5" x2="202.8" y2="1608.4" stroke="#000" stroke-width="3" />
<line x1="262.4" y1="1599.5" x2="262.4" y2="1608.4" stroke="#000" stroke-width="3" />
<line x1="322.6" y1="1599.5" x2="322.6" y2="1608.4" stroke="#000" stroke-width="3" />
<circle cx="189" cy="1599.5" r="5" fill="none" stroke="#000" stroke-width="3.1"/>
<circle cx="198.3" cy="1599.5" r="5" fill="none" stroke="#000" stroke-width="3.1"/>
<circle cx="207.8" cy="1599.5" r="5" fill="none" stroke="#000" stroke-width="3.1"/>
<circle cx="218.2" cy="1599.5" r="5" fill="none" stroke="#000" stroke-width="3.1"/>
<circle cx="263.6" cy="1343.4" r="5" fill="none" stroke="#000" stroke-width="3.1"/>
<circle cx="249.3" cy="1369.5" r="5" fill="none" stroke="#000" stroke-width="3.1"/>
<circle cx="277.5" cy="1369.5" r="5" fill="none" stroke="#000" stroke-width="3.1"/>
<circle cx="263.6" cy="1445.8" r="5" fill="none" stroke="#000" stroke-width="3.1"/>
<circle cx="322.9" cy="1369.5" r="5" fill="none" stroke="#000" stroke-width="3.1"/>
<circle cx="308.7" cy="1420.6" r="5" fill="none" stroke="#000" stroke-width="3.1"/>
<circle cx="336.9" cy="1420.6" r="5" fill="none" stroke="#000" stroke-width="3.1"/>
<circle cx="322.9" cy="1471.9" r="5" fill="none" stroke="#000" stroke-width="3.1"/>
<line x1="243.4" y1="1369.5" x2="283.5" y2="1369.5" stroke="#000" stroke-width="5" />
<line x1="302.8" y1="1420.6" x2="342.8" y2="1420.6" stroke="#000" stroke-width="5" />
<text x="248.67" y="1312.5" textLength="98.59" lengthAdjust="spacingAndGlyphs" font-size="23.7" stroke="#000" stroke-width="0.33">p=0.2544</text>
<line x1="253.8" y1="1322.6" x2="337.8" y2="1322.6" stroke="#000" stroke-width="2.9" />
<text transform="translate(37.2,1522.4) rotate(-90)" x="0" y="0" font-size="30" font-weight="bold" font-style="italic" textLength="142.4" lengthAdjust="spacingAndGlyphs">Brca1<tspan font-size="21" dy="-11">CC/CC</tspan></text>
<text transform="translate(74.2,1626) rotate(-90)" x="-0.59" y="0" textLength="327.44" lengthAdjust="spacingAndGlyphs" font-size="31.6" stroke="#000" stroke-width="0.44">Translocations  (% wells)</text>
<text transform="translate(211,1636.8) rotate(-45)" x="0" y="0" font-size="31.6" stroke="#000" stroke-width="0.44" text-anchor="end">-</text>
<text transform="translate(271.1,1636.5) rotate(-45)" x="0" y="0" font-size="31.6" stroke="#000" stroke-width="0.44" text-anchor="end">DMSO</text>
<text transform="translate(331,1636.5) rotate(-45)" x="0" y="0" font-size="31.6" stroke="#000" stroke-width="0.44" text-anchor="end">ART558</text>
</g>
<g id="pE">
<text x="412.32" y="1276" textLength="30.58" lengthAdjust="spacingAndGlyphs" font-size="49.2" font-weight="bold">E</text>
<line x1="575.6" y1="1316.9" x2="575.6" y2="1601.2" stroke="#000" stroke-width="3" />
<line x1="566.8" y1="1599.9" x2="762.7" y2="1599.9" stroke="#000" stroke-width="3" />
<line x1="566.8" y1="1318.5" x2="575.6" y2="1318.5" stroke="#000" stroke-width="3" />
<text x="506.69" y="1330.1" font-size="31.6" stroke="#000" stroke-width="0.44">300</text>
<line x1="566.8" y1="1412.3" x2="575.6" y2="1412.3" stroke="#000" stroke-width="3" />
<text x="506.69" y="1423.9" font-size="31.6" stroke="#000" stroke-width="0.44">200</text>
<line x1="566.8" y1="1506.1" x2="575.6" y2="1506.1" stroke="#000" stroke-width="3" />
<text x="506.69" y="1517.7" font-size="31.6" stroke="#000" stroke-width="0.44">100</text>
<line x1="566.8" y1="1599.9" x2="575.6" y2="1599.9" stroke="#000" stroke-width="3" />
<text x="541.77" y="1611.5" font-size="31.6" stroke="#000" stroke-width="0.44">0</text>
<line x1="628" y1="1599.9" x2="628" y2="1608.8" stroke="#000" stroke-width="3" />
<line x1="708.7" y1="1599.9" x2="708.7" y2="1608.8" stroke="#000" stroke-width="3" />
<text transform="translate(484.8,1576.7) rotate(-90)" x="-2.37" y="0" textLength="230.69" lengthAdjust="spacingAndGlyphs" font-size="31.6" stroke="#000" stroke-width="0.44">Deletion size (bp)</text>
<text x="615.18" y="1319" textLength="98.38" lengthAdjust="spacingAndGlyphs" font-size="23.7" stroke="#000" stroke-width="0.33">p=0.0844</text>
<line x1="610.7" y1="1331" x2="714.6" y2="1331" stroke="#000" stroke-width="2.9" />
<path d="M627.96 1435.7h0M631.52 1460.93h0M624.7 1465.98h0M627.96 1476.36h0M627.96 1489.13h0M627.96 1509.91h0M627.96 1517.33h0M624.7 1534.84h0M631.52 1539.29h0M624.7 1543.74h0M627.96 1579.36h0M631.52 1584.7h0M624.7 1590.64h0M604.81 1592.72h0M604.81 1599.55h0M611.34 1598.95h0M618.17 1600.14h0M624.7 1600.14h0M631.52 1600.14h0M638.35 1600.14h0M645.18 1600.14h0M652.3 1600.14h0M708.7 1357.04h0M708.7 1368.91h0M708.7 1435.7h0M708.7 1452.62h0M708.7 1495.66h0M708.7 1503.67h0M708.7 1534.24h0M708.7 1544.63h0M703.35 1595.09h0M725.62 1595.98h0M692.37 1599.55h0M714.63 1600.14h0" stroke="#000" stroke-width="6" stroke-linecap="round" fill="none"/>
<line x1="601.8" y1="1582.3" x2="655.3" y2="1582.3" stroke="#000" stroke-width="5.3" />
<line x1="682" y1="1519.4" x2="735.4" y2="1519.4" stroke="#000" stroke-width="5.3" />
<text transform="translate(636.5,1637) rotate(-45)" x="0" y="0" font-size="31.6" stroke="#000" stroke-width="0.44" text-anchor="end">DMSO</text>
<text transform="translate(717,1637) rotate(-45)" x="0" y="0" font-size="31.6" stroke="#000" stroke-width="0.44" text-anchor="end">ART558</text>
</g>
<g id="pL">
<line x1="929.1" y1="1320.2" x2="929.1" y2="1612.4" stroke="#000" stroke-width="3" />
<line x1="920.9" y1="1604.2" x2="1213.2" y2="1604.2" stroke="#000" stroke-width="3" />
<line x1="920.9" y1="1321.5" x2="929.1" y2="1321.5" stroke="#000" stroke-width="3" />
<text x="860.99" y="1333.4" font-size="31.6" stroke="#000" stroke-width="0.44">100</text>
<line x1="920.9" y1="1378.04" x2="929.1" y2="1378.04" stroke="#000" stroke-width="3" />
<text x="878.53" y="1389.94" font-size="31.6" stroke="#000" stroke-width="0.44">80</text>
<line x1="920.9" y1="1434.58" x2="929.1" y2="1434.58" stroke="#000" stroke-width="3" />
<text x="878.53" y="1446.48" font-size="31.6" stroke="#000" stroke-width="0.44">60</text>
<line x1="920.9" y1="1491.12" x2="929.1" y2="1491.12" stroke="#000" stroke-width="3" />
<text x="878.53" y="1503.02" font-size="31.6" stroke="#000" stroke-width="0.44">40</text>
<line x1="920.9" y1="1547.66" x2="929.1" y2="1547.66" stroke="#000" stroke-width="3" />
<text x="878.53" y="1559.56" font-size="31.6" stroke="#000" stroke-width="0.44">20</text>
<line x1="920.9" y1="1604.2" x2="929.1" y2="1604.2" stroke="#000" stroke-width="3" />
<text x="896.07" y="1616.1" font-size="31.6" stroke="#000" stroke-width="0.44">0</text>
<line x1="929.1" y1="1604.2" x2="929.1" y2="1612.4" stroke="#000" stroke-width="3" />
<text x="920.25" y="1650.7" font-size="31.6" stroke="#000" stroke-width="0.44">0</text>
<line x1="1014.47" y1="1604.2" x2="1014.47" y2="1612.4" stroke="#000" stroke-width="3" />
<text x="987.53" y="1650.7" font-size="31.6" stroke="#000" stroke-width="0.44">150</text>
<line x1="1099.83" y1="1604.2" x2="1099.83" y2="1612.4" stroke="#000" stroke-width="3" />
<text x="1073.44" y="1650.7" font-size="31.6" stroke="#000" stroke-width="0.44">300</text>
<line x1="1185.2" y1="1604.2" x2="1185.2" y2="1612.4" stroke="#000" stroke-width="3" />
<text x="1159.12" y="1650.7" font-size="31.6" stroke="#000" stroke-width="0.44">450</text>
<text x="1023.92" y="1302.3" textLength="93.03" lengthAdjust="spacingAndGlyphs" font-size="31.6" stroke="#000" stroke-width="0.44">DMSO</text>
<text transform="translate(850.7,1612.4) rotate(-90)" x="-2.39" y="0" textLength="288.77" lengthAdjust="spacingAndGlyphs" font-size="31.6" stroke="#000" stroke-width="0.44">Percent of sequences</text>
<text x="988.85" y="1685" textLength="165.45" lengthAdjust="spacingAndGlyphs" font-size="31.6" stroke="#000" stroke-width="0.44">position (bp)</text>
<text x="1025.37" y="1356.3" textLength="60.92" lengthAdjust="spacingAndGlyphs" font-size="22.5" fill="#808080" stroke="#808080" stroke-width="0.32">H3f3b</text>
<text x="1096.18" y="1356.3" textLength="78.47" lengthAdjust="spacingAndGlyphs" font-size="22.5" fill="#808080" stroke="#808080" stroke-width="0.32">Rosa26</text>
<path d="M1093 1321.5h0M1093 1332.92h0M1093 1344.34h0M1093 1355.76h0M1093 1367.18h0M1093 1378.6h0M1093 1390.02h0M1093 1401.44h0M1093 1412.86h0M1093 1424.28h0M1093 1435.7h0M1093 1447.12h0M1093 1458.54h0M1093 1469.96h0M1093 1481.38h0M1093 1492.8h0M1093 1504.22h0M1093 1515.64h0M1093 1527.06h0M1093 1538.48h0M1093 1549.9h0M1093 1561.32h0M1093 1572.74h0M1093 1584.16h0M1093 1595.58h0M1093 1607h0" stroke="#808080" stroke-width="5" stroke-linecap="round" fill="none"/>
<polyline points="1034.05,1589.91 1046.92,1589.91 1046.92,1578.96 1054.59,1578.96 1054.59,1564.44 1058.7,1564.44 1058.7,1554.85 1061.99,1554.85 1061.99,1539.79 1069.65,1539.79 1069.65,1528.01 1075.13,1528.01 1075.13,1513.77 1081.16,1513.77 1081.16,1502.81 1084.72,1502.81 1086.09,1449.4 1090.75,1449.4 1092.94,1423.38 1094.85,1449.4 1098.96,1449.4 1099.78,1476.79 1104.44,1476.79 1106.36,1502.81 1113.48,1502.81 1114.85,1513.77 1119.5,1513.77 1120.87,1528.01 1124.98,1528.01 1126.35,1539.79 1131.01,1539.79 1133.2,1564.44 1136.49,1564.44 1137.86,1578.96 1149.09,1578.96 1150.45,1589.91 1155.66,1589.91" fill="none" stroke="#0c8e0c" stroke-width="2.9" stroke-linejoin="miter"/>
<path d="M985.3 1604.2H1189.4M1034 1604.2V1589.5M1047.5 1604.2V1589.5M1053.8 1604.2V1589.5M1061.6 1604.2V1589.5M1069.7 1604.2V1589.5M1072.4 1604.2V1589.5M1075.4 1604.2V1589.5M1082 1604.2V1589.5M1084.4 1604.2V1589.5M1086.5 1604.2V1579.3M1092.8 1604.2V1579.3M1095.5 1604.2V1589.5M1099.4 1604.2V1579.3M1105.4 1604.2V1589.5M1108.4 1604.2V1589.5M1125 1604.2V1589.5M1131.8 1604.2V1589.5M1134.2 1604.2V1589.5M1137.3 1604.2V1589.5M1146.9 1604.2V1589.5M1149.9 1604.2V1589.5M1157 1604.2V1589.5" fill="none" stroke="#ff9400" stroke-width="3"/>
<line x1="1358.7" y1="1324" x2="1358.7" y2="1615.1" stroke="#000" stroke-width="3" />
<line x1="1350.5" y1="1606.9" x2="1642.2" y2="1606.9" stroke="#000" stroke-width="3" />
<line x1="1350.5" y1="1325.3" x2="1358.7" y2="1325.3" stroke="#000" stroke-width="3" />
<text x="1290.59" y="1337.2" font-size="31.6" stroke="#000" stroke-width="0.44">100</text>
<line x1="1350.5" y1="1381.62" x2="1358.7" y2="1381.62" stroke="#000" stroke-width="3" />
<text x="1308.13" y="1393.52" font-size="31.6" stroke="#000" stroke-width="0.44">80</text>
<line x1="1350.5" y1="1437.94" x2="1358.7" y2="1437.94" stroke="#000" stroke-width="3" />
<text x="1308.13" y="1449.84" font-size="31.6" stroke="#000" stroke-width="0.44">60</text>
<line x1="1350.5" y1="1494.26" x2="1358.7" y2="1494.26" stroke="#000" stroke-width="3" />
<text x="1308.13" y="1506.16" font-size="31.6" stroke="#000" stroke-width="0.44">40</text>
<line x1="1350.5" y1="1550.58" x2="1358.7" y2="1550.58" stroke="#000" stroke-width="3" />
<text x="1308.13" y="1562.48" font-size="31.6" stroke="#000" stroke-width="0.44">20</text>
<line x1="1350.5" y1="1606.9" x2="1358.7" y2="1606.9" stroke="#000" stroke-width="3" />
<text x="1325.67" y="1618.8" font-size="31.6" stroke="#000" stroke-width="0.44">0</text>
<line x1="1358.7" y1="1606.9" x2="1358.7" y2="1615.1" stroke="#000" stroke-width="3" />
<text x="1349.85" y="1652" font-size="31.6" stroke="#000" stroke-width="0.44">0</text>
<line x1="1444.07" y1="1606.9" x2="1444.07" y2="1615.1" stroke="#000" stroke-width="3" />
<text x="1417.13" y="1652" font-size="31.6" stroke="#000" stroke-width="0.44">150</text>
<line x1="1529.43" y1="1606.9" x2="1529.43" y2="1615.1" stroke="#000" stroke-width="3" />
<text x="1503.04" y="1652" font-size="31.6" stroke="#000" stroke-width="0.44">300</text>
<line x1="1614.8" y1="1606.9" x2="1614.8" y2="1615.1" stroke="#000" stroke-width="3" />
<text x="1588.72" y="1652" font-size="31.6" stroke="#000" stroke-width="0.44">450</text>
<text x="1446.4" y="1305" textLength="109.42" lengthAdjust="spacingAndGlyphs" font-size="31.6" stroke="#000" stroke-width="0.44">ART558</text>
<text transform="translate(1280.9,1612.4) rotate(-90)" x="-2.38" y="0" textLength="288.27" lengthAdjust="spacingAndGlyphs" font-size="31.6" stroke="#000" stroke-width="0.44">Percent of sequences</text>
<text x="1418.45" y="1683.2" textLength="164.84" lengthAdjust="spacingAndGlyphs" font-size="31.6" stroke="#000" stroke-width="0.44">position (bp)</text>
<text x="1454.97" y="1359" textLength="60.92" lengthAdjust="spacingAndGlyphs" font-size="22.5" fill="#808080" stroke="#808080" stroke-width="0.32">H3f3b</text>
<text x="1525.89" y="1359" textLength="78.06" lengthAdjust="spacingAndGlyphs" font-size="22.5" fill="#808080" stroke="#808080" stroke-width="0.32">Rosa26</text>
<path d="M1522.5 1325.3h0M1522.5 1336.72h0M1522.5 1348.14h0M1522.5 1359.56h0M1522.5 1370.98h0M1522.5 1382.4h0M1522.5 1393.82h0M1522.5 1405.24h0M1522.5 1416.66h0M1522.5 1428.08h0M1522.5 1439.5h0M1522.5 1450.92h0M1522.5 1462.34h0M1522.5 1473.76h0M1522.5 1485.18h0M1522.5 1496.6h0M1522.5 1508.02h0M1522.5 1519.44h0M1522.5 1530.86h0M1522.5 1542.28h0M1522.5 1553.7h0M1522.5 1565.12h0M1522.5 1576.54h0M1522.5 1587.96h0M1522.5 1599.38h0" stroke="#808080" stroke-width="5" stroke-linecap="round" fill="none"/>
<polyline points="1418.99,1606.35 1420.91,1558.96 1432.68,1558.96 1433.51,1536.23 1459.53,1536.23 1460.9,1513.77 1462.81,1513.77 1464.18,1488.3 1471.58,1488.3 1472.4,1465.84 1500.61,1465.84 1500.61,1443.1 1506.64,1443.1 1506.64,1417.9 1521.7,1417.9 1523.62,1465.84 1532.11,1465.84 1532.93,1488.3 1539.5,1488.3 1540.87,1536.23 1560.59,1536.23 1561.96,1584.98 1563.33,1606.35" fill="none" stroke="#0c8e0c" stroke-width="2.9" stroke-linejoin="miter"/>
<path d="M1413.5 1606.9H1619M1506.1 1606.9V1583.6M1509.4 1606.9V1583.6M1515.8 1606.9V1585M1539.5 1606.9V1583.6M1542.8 1606.9V1583.6M1564.7 1606.9V1583.6M1567 1606.9V1583.6" fill="none" stroke="#ff9400" stroke-width="3"/>
<line x1="1170.2" y1="1691.3" x2="1231.8" y2="1691.3" stroke="#0c8e0c" stroke-width="2.6" />
<line x1="1173.7" y1="1727.4" x2="1235" y2="1727.4" stroke="#ff9400" stroke-width="2.8" />
<text x="1264.5" y="1703" textLength="105.14" lengthAdjust="spacingAndGlyphs" font-size="31.6" stroke="#000" stroke-width="0.44">deletion</text>
<text x="1267.76" y="1739.4" textLength="202.76" lengthAdjust="spacingAndGlyphs" font-size="31.6" stroke="#000" stroke-width="0.44">microhomology</text>
</g>
</svg>
</body></html>
